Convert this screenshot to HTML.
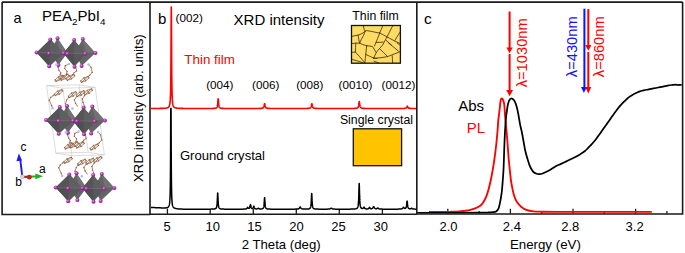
<!DOCTYPE html>
<html><head><meta charset="utf-8"><style>
html,body{margin:0;padding:0;background:#fff;}
body{width:685px;height:253px;overflow:hidden;}
svg{display:block;}
text{font-family:"Liberation Sans",sans-serif;}
</style></head><body>
<svg width="685" height="253" viewBox="0 0 685 253">
<defs>
<radialGradient id="atom" cx="0.4" cy="0.35" r="0.65">
<stop offset="0" stop-color="#e9a0e9"/><stop offset="0.45" stop-color="#b43cb4"/><stop offset="1" stop-color="#861486"/>
</radialGradient>
<clipPath id="cb"><rect x="150.8" y="2.8" width="265.2" height="211"/></clipPath>
<clipPath id="cc"><rect x="417.3" y="2.8" width="264.6" height="210.6"/></clipPath>
</defs>
<rect width="685" height="253" fill="#fff"/>

<!-- panel a -->
<g id="crystal">
<g fill="none" stroke="#c4c4c4" stroke-width="0.6">
<path d="M46.6 85.6 L79 84.8 L95.2 87.4 L62.8 88.2 L46.6 85.6 M55.8 153.1 L88.2 152.3 L104.4 154.9 L72 155.7 L55.8 153.1 M46.6 85.6 L55.8 153.1 M79 84.8 L88.2 152.3 M95.2 87.4 L104.4 154.9 M62.8 88.2 L72 155.7"/>
</g>
<path d="M56.4 64.8 L58.1 67.2 L59 70.5 L60.9 72.9 L60 75 L62.47 75.44 M63.35 76.9 L60.08 79.86 L55.93 81.36 L55.05 79.9 L58.32 76.94 L62.47 75.44 L63.35 76.9 M55.93 81.36 L62.47 75.44 M60.08 79.86 L58.32 76.94 M69 64 L65.2 65.8 L64.8 68.6 L67.1 71.4 L66.4 74.2 L67.87 74.24 M68.75 75.7 L65.48 78.66 L61.33 80.16 L60.45 78.7 L63.72 75.74 L67.87 74.24 L68.75 75.7 M61.33 80.16 L67.87 74.24 M65.48 78.66 L63.72 75.74 M76 67.8 L76.6 71 L74.2 72.6 L72.6 74.6 L73.87 74.44 M74.75 75.9 L71.48 78.86 L67.33 80.36 L66.45 78.9 L69.72 75.94 L73.87 74.44 L74.75 75.9 M67.33 80.36 L73.87 74.44 M71.48 78.86 L69.72 75.94 M88.6 64.5 L91 67.3 L92.2 72.4 L89.8 75.2 L88.07 76.44 M88.95 77.9 L85.68 80.86 L81.53 82.36 L80.65 80.9 L83.92 77.94 L88.07 76.44 L88.95 77.9 M81.53 82.36 L88.07 76.44 M85.68 80.86 L83.92 77.94 M52.6 108.3 L51.6 105.5 L49.3 100.2 L50.7 97.4 L53.2 95.6 L54.35 94.1 M62.65 91.1 L59.38 94.06 L55.23 95.56 L54.35 94.1 L57.62 91.14 L61.77 89.64 L62.65 91.1 M55.23 95.56 L61.77 89.64 M59.38 94.06 L57.62 91.14 M67.3 107.6 L65.5 103.6 L66.7 100 L68.6 97.4 L69.13 97.56 M76.55 93.1 L73.28 96.06 L69.13 97.56 L68.25 96.1 L71.52 93.14 L75.67 91.64 L76.55 93.1 M69.13 97.56 L75.67 91.64 M73.28 96.06 L71.52 93.14 M78 106.9 L75.6 103.4 L74.4 99.9 L76.8 96.4 L77.33 96.56 M84.75 92.1 L81.48 95.06 L77.33 96.56 L76.45 95.1 L79.72 92.14 L83.87 90.64 L84.75 92.1 M77.33 96.56 L83.87 90.64 M81.48 95.06 L79.72 92.14 M84.6 106.4 L83 102.4 L82.4 98.8 L84.6 95.6 L84.93 94.76 M92.35 90.3 L89.08 93.26 L84.93 94.76 L84.05 93.3 L87.32 90.34 L91.47 88.84 L92.35 90.3 M84.93 94.76 L91.47 88.84 M89.08 93.26 L87.32 90.34 M65.9 132.4 L67.6 134.8 L68.5 138.1 L70.4 140.5 L69.5 142.6 L71.97 143.04 M72.85 144.5 L69.58 147.46 L65.43 148.96 L64.55 147.5 L67.82 144.54 L71.97 143.04 L72.85 144.5 M65.43 148.96 L71.97 143.04 M69.58 147.46 L67.82 144.54 M78.5 131.6 L74.7 133.4 L74.3 136.2 L76.6 139 L75.9 141.8 L77.37 141.84 M78.25 143.3 L74.98 146.26 L70.83 147.76 L69.95 146.3 L73.22 143.34 L77.37 141.84 L78.25 143.3 M70.83 147.76 L77.37 141.84 M74.98 146.26 L73.22 143.34 M85.5 135.4 L86.1 138.6 L83.7 140.2 L82.1 142.2 L83.37 142.04 M84.25 143.5 L80.98 146.46 L76.83 147.96 L75.95 146.5 L79.22 143.54 L83.37 142.04 L84.25 143.5 M76.83 147.96 L83.37 142.04 M80.98 146.46 L79.22 143.54 M98.1 132.1 L100.5 134.9 L101.7 140 L99.3 142.8 L97.57 144.04 M98.45 145.5 L95.18 148.46 L91.03 149.96 L90.15 148.5 L93.42 145.54 L97.57 144.04 L98.45 145.5 M91.03 149.96 L97.57 144.04 M95.18 148.46 L93.42 145.54 M62.1 175.9 L61.1 173.1 L58.8 167.8 L60.2 165 L62.7 163.2 L63.85 161.7 M72.15 158.7 L68.88 161.66 L64.73 163.16 L63.85 161.7 L67.12 158.74 L71.27 157.24 L72.15 158.7 M64.73 163.16 L71.27 157.24 M68.88 161.66 L67.12 158.74 M76.8 175.2 L75 171.2 L76.2 167.6 L78.1 165 L78.63 165.16 M86.05 160.7 L82.78 163.66 L78.63 165.16 L77.75 163.7 L81.02 160.74 L85.17 159.24 L86.05 160.7 M78.63 165.16 L85.17 159.24 M82.78 163.66 L81.02 160.74 M87.5 174.5 L85.1 171 L83.9 167.5 L86.3 164 L86.83 164.16 M94.25 159.7 L90.98 162.66 L86.83 164.16 L85.95 162.7 L89.22 159.74 L93.37 158.24 L94.25 159.7 M86.83 164.16 L93.37 158.24 M90.98 162.66 L89.22 159.74 M94.1 174 L92.5 170 L91.9 166.4 L94.1 163.2 L94.43 162.36 M101.85 157.9 L98.58 160.86 L94.43 162.36 L93.55 160.9 L96.82 157.94 L100.97 156.44 L101.85 157.9 M94.43 162.36 L100.97 156.44 M98.58 160.86 L96.82 157.94" fill="none" stroke="#946646" stroke-width="0.8" stroke-linejoin="round"/>
<circle cx="58.1" cy="67.2" r="0.7" fill="#946646"/><circle cx="59" cy="70.5" r="0.7" fill="#946646"/><circle cx="60.9" cy="72.9" r="0.7" fill="#946646"/><circle cx="60" cy="75" r="0.7" fill="#946646"/><circle cx="63.35" cy="76.9" r="0.7" fill="#946646"/><circle cx="60.08" cy="79.86" r="0.7" fill="#946646"/><circle cx="55.93" cy="81.36" r="0.7" fill="#946646"/><circle cx="55.05" cy="79.9" r="0.7" fill="#946646"/><circle cx="58.32" cy="76.94" r="0.7" fill="#946646"/><circle cx="62.47" cy="75.44" r="0.7" fill="#946646"/><circle cx="65.2" cy="65.8" r="0.7" fill="#946646"/><circle cx="64.8" cy="68.6" r="0.7" fill="#946646"/><circle cx="67.1" cy="71.4" r="0.7" fill="#946646"/><circle cx="66.4" cy="74.2" r="0.7" fill="#946646"/><circle cx="68.75" cy="75.7" r="0.7" fill="#946646"/><circle cx="65.48" cy="78.66" r="0.7" fill="#946646"/><circle cx="61.33" cy="80.16" r="0.7" fill="#946646"/><circle cx="60.45" cy="78.7" r="0.7" fill="#946646"/><circle cx="63.72" cy="75.74" r="0.7" fill="#946646"/><circle cx="67.87" cy="74.24" r="0.7" fill="#946646"/><circle cx="76.6" cy="71" r="0.7" fill="#946646"/><circle cx="74.2" cy="72.6" r="0.7" fill="#946646"/><circle cx="72.6" cy="74.6" r="0.7" fill="#946646"/><circle cx="74.75" cy="75.9" r="0.7" fill="#946646"/><circle cx="71.48" cy="78.86" r="0.7" fill="#946646"/><circle cx="67.33" cy="80.36" r="0.7" fill="#946646"/><circle cx="66.45" cy="78.9" r="0.7" fill="#946646"/><circle cx="69.72" cy="75.94" r="0.7" fill="#946646"/><circle cx="73.87" cy="74.44" r="0.7" fill="#946646"/><circle cx="91" cy="67.3" r="0.7" fill="#946646"/><circle cx="92.2" cy="72.4" r="0.7" fill="#946646"/><circle cx="89.8" cy="75.2" r="0.7" fill="#946646"/><circle cx="88.95" cy="77.9" r="0.7" fill="#946646"/><circle cx="85.68" cy="80.86" r="0.7" fill="#946646"/><circle cx="81.53" cy="82.36" r="0.7" fill="#946646"/><circle cx="80.65" cy="80.9" r="0.7" fill="#946646"/><circle cx="83.92" cy="77.94" r="0.7" fill="#946646"/><circle cx="88.07" cy="76.44" r="0.7" fill="#946646"/><circle cx="51.6" cy="105.5" r="0.7" fill="#946646"/><circle cx="49.3" cy="100.2" r="0.7" fill="#946646"/><circle cx="50.7" cy="97.4" r="0.7" fill="#946646"/><circle cx="53.2" cy="95.6" r="0.7" fill="#946646"/><circle cx="62.65" cy="91.1" r="0.7" fill="#946646"/><circle cx="59.38" cy="94.06" r="0.7" fill="#946646"/><circle cx="55.23" cy="95.56" r="0.7" fill="#946646"/><circle cx="54.35" cy="94.1" r="0.7" fill="#946646"/><circle cx="57.62" cy="91.14" r="0.7" fill="#946646"/><circle cx="61.77" cy="89.64" r="0.7" fill="#946646"/><circle cx="65.5" cy="103.6" r="0.7" fill="#946646"/><circle cx="66.7" cy="100" r="0.7" fill="#946646"/><circle cx="68.6" cy="97.4" r="0.7" fill="#946646"/><circle cx="76.55" cy="93.1" r="0.7" fill="#946646"/><circle cx="73.28" cy="96.06" r="0.7" fill="#946646"/><circle cx="69.13" cy="97.56" r="0.7" fill="#946646"/><circle cx="68.25" cy="96.1" r="0.7" fill="#946646"/><circle cx="71.52" cy="93.14" r="0.7" fill="#946646"/><circle cx="75.67" cy="91.64" r="0.7" fill="#946646"/><circle cx="75.6" cy="103.4" r="0.7" fill="#946646"/><circle cx="74.4" cy="99.9" r="0.7" fill="#946646"/><circle cx="76.8" cy="96.4" r="0.7" fill="#946646"/><circle cx="84.75" cy="92.1" r="0.7" fill="#946646"/><circle cx="81.48" cy="95.06" r="0.7" fill="#946646"/><circle cx="77.33" cy="96.56" r="0.7" fill="#946646"/><circle cx="76.45" cy="95.1" r="0.7" fill="#946646"/><circle cx="79.72" cy="92.14" r="0.7" fill="#946646"/><circle cx="83.87" cy="90.64" r="0.7" fill="#946646"/><circle cx="83" cy="102.4" r="0.7" fill="#946646"/><circle cx="82.4" cy="98.8" r="0.7" fill="#946646"/><circle cx="84.6" cy="95.6" r="0.7" fill="#946646"/><circle cx="92.35" cy="90.3" r="0.7" fill="#946646"/><circle cx="89.08" cy="93.26" r="0.7" fill="#946646"/><circle cx="84.93" cy="94.76" r="0.7" fill="#946646"/><circle cx="84.05" cy="93.3" r="0.7" fill="#946646"/><circle cx="87.32" cy="90.34" r="0.7" fill="#946646"/><circle cx="91.47" cy="88.84" r="0.7" fill="#946646"/><circle cx="67.6" cy="134.8" r="0.7" fill="#946646"/><circle cx="68.5" cy="138.1" r="0.7" fill="#946646"/><circle cx="70.4" cy="140.5" r="0.7" fill="#946646"/><circle cx="69.5" cy="142.6" r="0.7" fill="#946646"/><circle cx="72.85" cy="144.5" r="0.7" fill="#946646"/><circle cx="69.58" cy="147.46" r="0.7" fill="#946646"/><circle cx="65.43" cy="148.96" r="0.7" fill="#946646"/><circle cx="64.55" cy="147.5" r="0.7" fill="#946646"/><circle cx="67.82" cy="144.54" r="0.7" fill="#946646"/><circle cx="71.97" cy="143.04" r="0.7" fill="#946646"/><circle cx="74.7" cy="133.4" r="0.7" fill="#946646"/><circle cx="74.3" cy="136.2" r="0.7" fill="#946646"/><circle cx="76.6" cy="139" r="0.7" fill="#946646"/><circle cx="75.9" cy="141.8" r="0.7" fill="#946646"/><circle cx="78.25" cy="143.3" r="0.7" fill="#946646"/><circle cx="74.98" cy="146.26" r="0.7" fill="#946646"/><circle cx="70.83" cy="147.76" r="0.7" fill="#946646"/><circle cx="69.95" cy="146.3" r="0.7" fill="#946646"/><circle cx="73.22" cy="143.34" r="0.7" fill="#946646"/><circle cx="77.37" cy="141.84" r="0.7" fill="#946646"/><circle cx="86.1" cy="138.6" r="0.7" fill="#946646"/><circle cx="83.7" cy="140.2" r="0.7" fill="#946646"/><circle cx="82.1" cy="142.2" r="0.7" fill="#946646"/><circle cx="84.25" cy="143.5" r="0.7" fill="#946646"/><circle cx="80.98" cy="146.46" r="0.7" fill="#946646"/><circle cx="76.83" cy="147.96" r="0.7" fill="#946646"/><circle cx="75.95" cy="146.5" r="0.7" fill="#946646"/><circle cx="79.22" cy="143.54" r="0.7" fill="#946646"/><circle cx="83.37" cy="142.04" r="0.7" fill="#946646"/><circle cx="100.5" cy="134.9" r="0.7" fill="#946646"/><circle cx="101.7" cy="140" r="0.7" fill="#946646"/><circle cx="99.3" cy="142.8" r="0.7" fill="#946646"/><circle cx="98.45" cy="145.5" r="0.7" fill="#946646"/><circle cx="95.18" cy="148.46" r="0.7" fill="#946646"/><circle cx="91.03" cy="149.96" r="0.7" fill="#946646"/><circle cx="90.15" cy="148.5" r="0.7" fill="#946646"/><circle cx="93.42" cy="145.54" r="0.7" fill="#946646"/><circle cx="97.57" cy="144.04" r="0.7" fill="#946646"/><circle cx="61.1" cy="173.1" r="0.7" fill="#946646"/><circle cx="58.8" cy="167.8" r="0.7" fill="#946646"/><circle cx="60.2" cy="165" r="0.7" fill="#946646"/><circle cx="62.7" cy="163.2" r="0.7" fill="#946646"/><circle cx="72.15" cy="158.7" r="0.7" fill="#946646"/><circle cx="68.88" cy="161.66" r="0.7" fill="#946646"/><circle cx="64.73" cy="163.16" r="0.7" fill="#946646"/><circle cx="63.85" cy="161.7" r="0.7" fill="#946646"/><circle cx="67.12" cy="158.74" r="0.7" fill="#946646"/><circle cx="71.27" cy="157.24" r="0.7" fill="#946646"/><circle cx="75" cy="171.2" r="0.7" fill="#946646"/><circle cx="76.2" cy="167.6" r="0.7" fill="#946646"/><circle cx="78.1" cy="165" r="0.7" fill="#946646"/><circle cx="86.05" cy="160.7" r="0.7" fill="#946646"/><circle cx="82.78" cy="163.66" r="0.7" fill="#946646"/><circle cx="78.63" cy="165.16" r="0.7" fill="#946646"/><circle cx="77.75" cy="163.7" r="0.7" fill="#946646"/><circle cx="81.02" cy="160.74" r="0.7" fill="#946646"/><circle cx="85.17" cy="159.24" r="0.7" fill="#946646"/><circle cx="85.1" cy="171" r="0.7" fill="#946646"/><circle cx="83.9" cy="167.5" r="0.7" fill="#946646"/><circle cx="86.3" cy="164" r="0.7" fill="#946646"/><circle cx="94.25" cy="159.7" r="0.7" fill="#946646"/><circle cx="90.98" cy="162.66" r="0.7" fill="#946646"/><circle cx="86.83" cy="164.16" r="0.7" fill="#946646"/><circle cx="85.95" cy="162.7" r="0.7" fill="#946646"/><circle cx="89.22" cy="159.74" r="0.7" fill="#946646"/><circle cx="93.37" cy="158.24" r="0.7" fill="#946646"/><circle cx="92.5" cy="170" r="0.7" fill="#946646"/><circle cx="91.9" cy="166.4" r="0.7" fill="#946646"/><circle cx="94.1" cy="163.2" r="0.7" fill="#946646"/><circle cx="101.85" cy="157.9" r="0.7" fill="#946646"/><circle cx="98.58" cy="160.86" r="0.7" fill="#946646"/><circle cx="94.43" cy="162.36" r="0.7" fill="#946646"/><circle cx="93.55" cy="160.9" r="0.7" fill="#946646"/><circle cx="96.82" cy="157.94" r="0.7" fill="#946646"/><circle cx="100.97" cy="156.44" r="0.7" fill="#946646"/>
<polygon points="57.5,38.3 67.4,53 58.4,65.1 49.5,52" fill="#646466"/>
<polygon points="57.5,38.3 67.4,53 59.45,51.7" fill="#727274"/>
<polygon points="82.8,39 95.4,53 81.6,66 74.5,52.5" fill="#646466"/>
<polygon points="82.8,39 95.4,53 85.95,52.5" fill="#727274"/>
<polygon points="50.3,39.3 63.4,53.2 49.4,66.4 36.7,52.6" fill="#58585a"/>
<polygon points="50.3,39.3 63.4,53.2 49.55,52.85" fill="#5f5f61"/>
<polygon points="50.3,39.3 36.7,52.6 49.55,52.85" fill="#555557"/>
<polygon points="36.7,52.6 49.4,66.4 49.55,52.85" fill="#4f4f51"/>
<line x1="36.7" y1="52.6" x2="63.4" y2="53.2" stroke="#86708a" stroke-width="0.55"/>
<polygon points="74.1,40 85.6,53.7 74.5,66.8 63.4,53.2" fill="#58585a"/>
<polygon points="74.1,40 85.6,53.7 74,53.4" fill="#5f5f61"/>
<polygon points="74.1,40 63.4,53.2 74,53.4" fill="#555557"/>
<polygon points="63.4,53.2 74.5,66.8 74,53.4" fill="#4f4f51"/>
<line x1="63.4" y1="53.2" x2="85.6" y2="53.7" stroke="#86708a" stroke-width="0.55"/>
<circle cx="50.3" cy="39.5" r="2.0" fill="url(#atom)"/>
<circle cx="57.5" cy="38.3" r="2.0" fill="url(#atom)"/>
<circle cx="74.1" cy="40" r="2.0" fill="url(#atom)"/>
<circle cx="82.8" cy="39" r="2.0" fill="url(#atom)"/>
<circle cx="36.6" cy="52.5" r="2.0" fill="url(#atom)"/>
<circle cx="48.9" cy="53.5" r="2.0" fill="url(#atom)"/>
<circle cx="63.4" cy="53.2" r="2.0" fill="url(#atom)"/>
<circle cx="67.4" cy="53.7" r="2.0" fill="url(#atom)"/>
<circle cx="85.2" cy="53.7" r="2.0" fill="url(#atom)"/>
<circle cx="95.4" cy="53" r="2.0" fill="url(#atom)"/>
<circle cx="49.2" cy="66.2" r="2.0" fill="url(#atom)"/>
<circle cx="58.4" cy="65.1" r="2.0" fill="url(#atom)"/>
<circle cx="74.5" cy="66.7" r="2.0" fill="url(#atom)"/>
<circle cx="81.6" cy="66" r="2.0" fill="url(#atom)"/>
<polygon points="67,105.9 76.9,120.6 67.9,132.7 59,119.6" fill="#646466"/>
<polygon points="67,105.9 76.9,120.6 68.95,119.3" fill="#727274"/>
<polygon points="92.3,106.6 104.9,120.6 91.1,133.6 84,120.1" fill="#646466"/>
<polygon points="92.3,106.6 104.9,120.6 95.45,120.1" fill="#727274"/>
<polygon points="59.8,106.9 72.9,120.8 58.9,134 46.2,120.2" fill="#58585a"/>
<polygon points="59.8,106.9 72.9,120.8 59.05,120.45" fill="#5f5f61"/>
<polygon points="59.8,106.9 46.2,120.2 59.05,120.45" fill="#555557"/>
<polygon points="46.2,120.2 58.9,134 59.05,120.45" fill="#4f4f51"/>
<line x1="46.2" y1="120.2" x2="72.9" y2="120.8" stroke="#86708a" stroke-width="0.55"/>
<polygon points="83.6,107.6 95.1,121.3 84,134.4 72.9,120.8" fill="#58585a"/>
<polygon points="83.6,107.6 95.1,121.3 83.5,121" fill="#5f5f61"/>
<polygon points="83.6,107.6 72.9,120.8 83.5,121" fill="#555557"/>
<polygon points="72.9,120.8 84,134.4 83.5,121" fill="#4f4f51"/>
<line x1="72.9" y1="120.8" x2="95.1" y2="121.3" stroke="#86708a" stroke-width="0.55"/>
<circle cx="59.8" cy="107.1" r="2.0" fill="url(#atom)"/>
<circle cx="67" cy="105.9" r="2.0" fill="url(#atom)"/>
<circle cx="83.6" cy="107.6" r="2.0" fill="url(#atom)"/>
<circle cx="92.3" cy="106.6" r="2.0" fill="url(#atom)"/>
<circle cx="46.1" cy="120.1" r="2.0" fill="url(#atom)"/>
<circle cx="58.4" cy="121.1" r="2.0" fill="url(#atom)"/>
<circle cx="72.9" cy="120.8" r="2.0" fill="url(#atom)"/>
<circle cx="76.9" cy="121.3" r="2.0" fill="url(#atom)"/>
<circle cx="94.7" cy="121.3" r="2.0" fill="url(#atom)"/>
<circle cx="104.9" cy="120.6" r="2.0" fill="url(#atom)"/>
<circle cx="58.7" cy="133.8" r="2.0" fill="url(#atom)"/>
<circle cx="67.9" cy="132.7" r="2.0" fill="url(#atom)"/>
<circle cx="84" cy="134.3" r="2.0" fill="url(#atom)"/>
<circle cx="91.1" cy="133.6" r="2.0" fill="url(#atom)"/>
<polygon points="76.5,173.3 86.4,188 77.4,200.1 68.5,187" fill="#646466"/>
<polygon points="76.5,173.3 86.4,188 78.45,186.7" fill="#727274"/>
<polygon points="101.8,174 114.4,188 100.6,201 93.5,187.5" fill="#646466"/>
<polygon points="101.8,174 114.4,188 104.95,187.5" fill="#727274"/>
<polygon points="69.3,174.3 82.4,188.2 68.4,201.4 55.7,187.6" fill="#58585a"/>
<polygon points="69.3,174.3 82.4,188.2 68.55,187.85" fill="#5f5f61"/>
<polygon points="69.3,174.3 55.7,187.6 68.55,187.85" fill="#555557"/>
<polygon points="55.7,187.6 68.4,201.4 68.55,187.85" fill="#4f4f51"/>
<line x1="55.7" y1="187.6" x2="82.4" y2="188.2" stroke="#86708a" stroke-width="0.55"/>
<polygon points="93.1,175 104.6,188.7 93.5,201.8 82.4,188.2" fill="#58585a"/>
<polygon points="93.1,175 104.6,188.7 93,188.4" fill="#5f5f61"/>
<polygon points="93.1,175 82.4,188.2 93,188.4" fill="#555557"/>
<polygon points="82.4,188.2 93.5,201.8 93,188.4" fill="#4f4f51"/>
<line x1="82.4" y1="188.2" x2="104.6" y2="188.7" stroke="#86708a" stroke-width="0.55"/>
<circle cx="69.3" cy="174.5" r="2.0" fill="url(#atom)"/>
<circle cx="76.5" cy="173.3" r="2.0" fill="url(#atom)"/>
<circle cx="93.1" cy="175" r="2.0" fill="url(#atom)"/>
<circle cx="101.8" cy="174" r="2.0" fill="url(#atom)"/>
<circle cx="55.6" cy="187.5" r="2.0" fill="url(#atom)"/>
<circle cx="67.9" cy="188.5" r="2.0" fill="url(#atom)"/>
<circle cx="82.4" cy="188.2" r="2.0" fill="url(#atom)"/>
<circle cx="86.4" cy="188.7" r="2.0" fill="url(#atom)"/>
<circle cx="104.2" cy="188.7" r="2.0" fill="url(#atom)"/>
<circle cx="114.4" cy="188" r="2.0" fill="url(#atom)"/>
<circle cx="68.2" cy="201.2" r="2.0" fill="url(#atom)"/>
<circle cx="77.4" cy="200.1" r="2.0" fill="url(#atom)"/>
<circle cx="93.5" cy="201.7" r="2.0" fill="url(#atom)"/>
<circle cx="100.6" cy="201" r="2.0" fill="url(#atom)"/>
<circle cx="56.4" cy="64.8" r="1.3" fill="#b4bcec"/><circle cx="69" cy="64" r="1.3" fill="#b4bcec"/><circle cx="88.6" cy="64.5" r="1.3" fill="#b4bcec"/><circle cx="52.6" cy="108.3" r="1.3" fill="#b4bcec"/><circle cx="72.4" cy="108.6" r="1.3" fill="#b4bcec"/><circle cx="65.9" cy="132.4" r="1.3" fill="#b4bcec"/><circle cx="78.5" cy="131.6" r="1.3" fill="#b4bcec"/><circle cx="98.1" cy="132.1" r="1.3" fill="#b4bcec"/><circle cx="62.1" cy="175.9" r="1.3" fill="#b4bcec"/><circle cx="81.9" cy="176.2" r="1.3" fill="#b4bcec"/>
</g>
<!-- axes indicator -->
<line x1="22.3" y1="176.4" x2="20.2" y2="159" stroke="#1c1cf0" stroke-width="1.9"/>
<polygon points="18.9,153.2 16.4,161.2 22,160.6" fill="#1c1cf0"/>
<line x1="22.3" y1="176.8" x2="36" y2="176.5" stroke="#22b022" stroke-width="1.9"/>
<polygon points="43,176.3 35.4,173.4 35.4,179.2" fill="#22b022"/>
<line x1="22.3" y1="176.8" x2="29" y2="177.1" stroke="#b01818" stroke-width="1.6"/>
<circle cx="29.3" cy="177.2" r="2.4" fill="#c81e1e"/>
<circle cx="22.3" cy="176.7" r="2" fill="#d8d8d8" stroke="#999" stroke-width="0.4"/>
<text x="20.6" y="151" font-size="12">c</text>
<text x="38.9" y="172.7" font-size="12">a</text>
<text x="15.2" y="186" font-size="12">b</text>

<text x="13.6" y="22.8" font-size="14.5">a</text>
<text x="42" y="21.4" font-size="15">PEA<tspan font-size="9.9" dy="3.1">2</tspan><tspan dy="-3.1">PbI</tspan><tspan font-size="9.9" dy="3.1">4</tspan></text>

<!-- frames -->
<g fill="none" stroke="#1a1a1a" stroke-width="1.6">
<path d="M2.1 2.1 L682.6 2.1"/>
<path d="M2.1 2.1 L2.1 214.5 L150 214.5"/>
<path d="M150 2.1 L150 214.3 L416.8 214.3"/>
<path d="M416.8 2.1 L416.8 214 L682.6 214 L682.6 2.1"/>
</g>

<!-- panel b -->
<text x="158" y="23.5" font-size="15">b</text>
<text x="175.5" y="21.9" font-size="11.7">(002)</text>
<text x="233.6" y="24.6" font-size="15">XRD intensity</text>
<text x="352.3" y="20.2" font-size="12.3">Thin film</text>
<rect x="351.5" y="25.5" width="48.9" height="37.7" fill="#fedb66"/>
<path d="M363.3 25.8 L364.2 29.5 L365.2 31.2 L366.5 30.6 L371 31.3 L377 32.6 L379.7 33 M365.2 31.2 L363.5 35.5 L361.3 39.5 L359.6 43.2 M351.6 36.4 L355 35.7 L358.1 35.1 L362 33.6 L365.2 31.2 M358.1 35.1 L358.8 39.5 L359.6 43.2 M351.6 43.6 L355.8 43.1 L359.6 43.2 L362.6 44.5 L366.7 45.7 M382.7 25.8 L381.2 29.5 L379.7 33 L377.6 38.5 L375.7 43 L374.5 46 M379.7 33 L383.5 35 L387 36.9 L391 39 L395 41.2 L400.3 43.6 M392.7 25.8 L390 31 L387 36.9 L384.8 41 L382.7 45 L379.5 48.5 L376.3 52.5 M400.3 31.7 L397.5 36.2 L394.9 40.4 M386.2 40.4 L388.5 42.5 L391.4 45 M355.8 43.1 L355.5 47.5 L355.4 52.1 M351.6 52.4 L355.4 52.1 M355.4 52.1 L359.5 56.5 L363.5 61.2 L364.5 62.8 M351.6 59.4 L357 60.8 L362.6 62.6 M366.7 45.7 L366.2 50 L365.8 54.4 L365.3 58.5 L364.9 62.8 M365.8 54.4 L369.5 56.2 L373.5 58 L377 58.5 M366.7 45.7 L372.4 46.4 L376.3 52.5 L373.5 58.3 M376.3 42.5 L380 42.3 L383.3 42.1 M379.5 48.5 L383.5 52.5 L387.6 56.6 M373.5 58.3 L380 57.8 L387.6 56.6 L394 54.1 L400.3 51.6 M392.2 55.7 L392.4 59 L392.6 62.8 M388.5 43 L393.5 47 L398.5 51.2 M397.2 43 L399.5 44.8 M374 61.2 L378.5 62.8" fill="none" stroke="#2a2000" stroke-width="0.75" stroke-linejoin="round" stroke-linecap="round"/>
<rect x="351.5" y="25.5" width="48.9" height="37.7" fill="none" stroke="#111" stroke-width="1.3"/>
<text x="184.3" y="63.6" font-size="13.4" fill="#ff0000">Thin film</text>
<g font-size="11.7">
<text x="206.2" y="89.3">(004)</text>
<text x="252.1" y="89.3">(006)</text>
<text x="296.2" y="89.3">(008)</text>
<text x="338.6" y="89.3">(0010)</text>
<text x="381.6" y="89.3">(0012)</text>
</g>
<text x="339.9" y="123.5" font-size="12.3">Single crystal</text>
<rect x="353.3" y="128.8" width="48.3" height="36.9" fill="#ffc300" stroke="#111" stroke-width="1.3"/>
<text x="179.9" y="160.3" font-size="13.1">Ground crystal</text>
<g stroke="#1a1a1a" stroke-width="1.3">
<line x1="167.4" y1="214" x2="167.4" y2="208.6"/>
<line x1="210.2" y1="214" x2="210.2" y2="209"/>
<line x1="253.3" y1="214" x2="253.3" y2="209"/>
<line x1="296.3" y1="214" x2="296.3" y2="209"/>
<line x1="339.3" y1="214" x2="339.3" y2="209"/>
<line x1="382.4" y1="214" x2="382.4" y2="209"/>
</g>
<g clip-path="url(#cb)">
<path d="M150.6 207.41 L150.85 207.42 L151.1 207.43 L151.35 207.45 L151.6 207.46 L151.85 207.47 L152.1 207.48 L152.35 207.5 L152.6 207.51 L152.85 207.52 L153.1 207.53 L153.35 207.55 L153.6 207.56 L153.85 207.57 L154.1 207.58 L154.35 207.59 L154.6 207.61 L154.85 207.62 L155.1 207.63 L155.35 207.64 L155.6 207.65 L155.85 207.67 L156.1 207.68 L156.35 207.69 L156.6 207.7 L156.85 207.71 L157.1 207.72 L157.35 207.74 L157.6 207.75 L157.85 207.76 L158.1 207.77 L158.35 207.78 L158.6 207.79 L158.85 207.8 L159.1 207.81 L159.35 207.82 L159.6 207.83 L159.85 207.84 L160.1 207.85 L160.35 207.86 L160.6 207.87 L160.85 207.88 L161.1 207.89 L161.35 207.9 L161.6 207.9 L161.85 207.91 L162.1 207.92 L162.35 207.92 L162.6 207.93 L162.85 207.93 L163.1 207.94 L163.35 207.94 L163.6 207.94 L163.85 207.94 L164.1 207.94 L164.35 207.94 L164.6 207.93 L164.85 207.93 L165.1 207.92 L165.35 207.9 L165.6 207.89 L165.85 207.87 L166.1 207.84 L166.35 207.81 L166.6 207.77 L166.85 207.72 L167.1 207.65 L167.35 207.57 L167.6 207.48 L167.85 207.35 L168.1 207.18 L168.35 206.95 L168.6 206.64 L168.85 206.21 L168.93 206.03 L169.02 205.82 L169.1 205.58 L169.16 205.38 L169.22 205.16 L169.29 204.91 L169.35 204.63 L169.39 204.42 L169.43 204.2 L169.47 203.96 L169.52 203.69 L169.56 203.41 L169.6 203.09 L169.63 202.87 L169.66 202.63 L169.68 202.37 L169.71 202.1 L169.74 201.8 L169.77 201.49 L169.79 201.15 L169.82 200.79 L169.85 200.41 L169.86 200.2 L169.88 199.99 L169.89 199.77 L169.91 199.54 L169.92 199.3 L169.93 199.06 L169.95 198.8 L169.96 198.53 L169.97 198.25 L169.99 197.96 L170 197.66 L170.02 197.34 L170.03 197.02 L170.04 196.67 L170.06 196.31 L170.07 195.94 L170.09 195.55 L170.1 195.14 L170.11 194.95 L170.11 194.76 L170.12 194.57 L170.12 194.37 L170.13 194.17 L170.14 193.96 L170.14 193.75 L170.15 193.54 L170.15 193.32 L170.16 193.1 L170.17 192.87 L170.17 192.63 L170.18 192.4 L170.19 192.15 L170.19 191.9 L170.2 191.65 L170.2 191.39 L170.21 191.12 L170.22 190.85 L170.22 190.57 L170.23 190.29 L170.23 190 L170.24 189.7 L170.25 189.4 L170.25 189.09 L170.26 188.77 L170.26 188.44 L170.27 188.11 L170.28 187.77 L170.28 187.42 L170.29 187.06 L170.3 186.69 L170.3 186.32 L170.31 185.93 L170.31 185.54 L170.32 185.13 L170.33 184.72 L170.33 184.3 L170.34 183.86 L170.34 183.42 L170.35 182.96 L170.35 182.79 L170.35 182.62 L170.36 182.46 L170.36 182.29 L170.36 182.11 L170.36 181.94 L170.37 181.77 L170.37 181.59 L170.37 181.41 L170.37 181.23 L170.37 181.05 L170.38 180.87 L170.38 180.68 L170.38 180.49 L170.38 180.31 L170.38 180.12 L170.39 179.92 L170.39 179.73 L170.39 179.53 L170.39 179.34 L170.4 179.14 L170.4 178.94 L170.4 178.73 L170.4 178.53 L170.4 178.32 L170.41 178.11 L170.41 177.9 L170.41 177.69 L170.41 177.48 L170.42 177.26 L170.42 177.04 L170.42 176.82 L170.42 176.6 L170.42 176.37 L170.43 176.15 L170.43 175.92 L170.43 175.68 L170.43 175.45 L170.43 175.21 L170.44 174.98 L170.44 174.74 L170.44 174.49 L170.44 174.25 L170.45 174 L170.45 173.75 L170.45 173.5 L170.45 173.24 L170.45 172.99 L170.46 172.73 L170.46 172.46 L170.46 172.2 L170.46 171.93 L170.47 171.66 L170.47 171.39 L170.47 171.11 L170.47 170.83 L170.47 170.55 L170.48 170.27 L170.48 169.98 L170.48 169.69 L170.48 169.4 L170.48 169.11 L170.49 168.81 L170.49 168.51 L170.49 168.2 L170.49 167.9 L170.5 167.59 L170.5 167.27 L170.5 166.96 L170.5 166.64 L170.5 166.32 L170.51 165.99 L170.51 165.66 L170.51 165.33 L170.51 165 L170.52 164.66 L170.52 164.31 L170.52 163.97 L170.52 163.62 L170.52 163.27 L170.53 162.91 L170.53 162.55 L170.53 162.19 L170.53 161.82 L170.53 161.45 L170.54 161.08 L170.54 160.7 L170.54 160.32 L170.54 159.94 L170.55 159.55 L170.55 159.16 L170.55 158.76 L170.55 158.36 L170.55 157.95 L170.56 157.55 L170.56 157.13 L170.56 156.72 L170.56 156.3 L170.57 155.87 L170.57 155.44 L170.57 155.01 L170.57 154.57 L170.57 154.13 L170.58 153.69 L170.58 153.24 L170.58 152.78 L170.58 152.33 L170.58 151.86 L170.59 151.39 L170.59 150.92 L170.59 150.45 L170.59 149.97 L170.6 149.48 L170.6 148.99 L170.6 148.5 L170.6 148.27 L170.6 148.04 L170.6 147.81 L170.6 147.57 L170.6 147.34 L170.61 147.11 L170.61 146.87 L170.61 146.64 L170.61 146.4 L170.61 146.16 L170.61 145.92 L170.61 145.68 L170.61 145.44 L170.61 145.2 L170.61 144.96 L170.62 144.71 L170.62 144.47 L170.62 144.22 L170.62 143.97 L170.62 143.73 L170.62 143.48 L170.62 143.23 L170.62 142.98 L170.62 142.72 L170.62 142.47 L170.63 142.22 L170.63 141.96 L170.63 141.7 L170.63 141.45 L170.63 141.19 L170.63 140.93 L170.63 140.67 L170.63 140.41 L170.63 140.15 L170.63 139.88 L170.64 139.62 L170.64 139.35 L170.64 139.09 L170.64 138.82 L170.64 138.55 L170.64 138.28 L170.64 138.01 L170.64 137.74 L170.64 137.46 L170.64 137.19 L170.65 136.92 L170.65 136.64 L170.65 136.36 L170.65 136.09 L170.65 135.81 L170.65 135.53 L170.65 135.25 L170.65 134.96 L170.65 134.68 L170.66 134.4 L170.66 134.11 L170.66 133.82 L170.66 133.54 L170.66 133.25 L170.66 132.96 L170.66 132.67 L170.66 132.38 L170.66 132.09 L170.66 131.79 L170.66 131.5 L170.67 131.2 L170.67 130.91 L170.67 130.61 L170.67 130.31 L170.67 130.01 L170.67 129.71 L170.67 129.41 L170.67 129.11 L170.67 128.81 L170.67 128.5 L170.68 128.2 L170.68 127.89 L170.68 127.58 L170.68 127.27 L170.68 126.97 L170.68 126.66 L170.68 126.35 L170.68 126.03 L170.68 125.72 L170.69 125.41 L170.69 125.09 L170.69 124.78 L170.69 124.46 L170.69 124.14 L170.69 123.83 L170.69 123.51 L170.69 123.19 L170.69 122.87 L170.69 122.55 L170.69 122.22 L170.7 121.9 L170.7 121.58 L170.7 121.25 L170.7 120.92 L170.7 120.6 L170.7 120.27 L170.7 119.94 L170.7 119.61 L170.7 119.28 L170.7 118.95 L170.71 118.62 L170.71 118.29 L170.71 117.96 L170.71 117.63 L170.71 117.29 L170.71 116.96 L170.71 116.62 L170.71 116.28 L170.71 115.95 L170.72 115.61 L170.72 115.27 L170.72 114.93 L170.72 114.6 L170.72 114.26 L170.72 113.92 L170.72 113.57 L170.72 113.23 L170.72 112.89 L170.72 112.55 L170.72 112.21 L170.73 111.86 L170.73 111.52 L170.73 111.17 L170.73 110.83 L170.73 110.48 L170.73 110.14 L170.73 109.79 L170.73 109.45 L170.73 109.1 L170.73 108.75 L170.74 108.6 L170.74 108.6 L170.74 108.6 L170.74 108.6 L170.74 108.6 L170.74 108.6 L170.74 108.6 L170.74 108.6 L170.74 108.6 L170.75 108.6 L170.75 108.6 L170.75 108.6 L170.75 108.6 L170.75 108.6 L170.75 108.6 L170.75 108.6 L170.75 108.6 L170.75 108.6 L170.75 108.6 L170.75 108.6 L170.76 108.6 L170.76 108.6 L170.76 108.6 L170.76 108.6 L170.76 108.6 L170.76 108.6 L170.76 108.6 L170.76 108.6 L170.76 108.6 L170.76 108.6 L170.77 108.6 L170.77 108.6 L170.77 108.6 L170.77 108.6 L170.77 108.6 L170.77 108.6 L170.77 108.6 L170.77 108.6 L170.77 108.6 L170.78 108.6 L170.78 108.6 L170.78 108.6 L170.78 108.6 L170.78 108.6 L170.78 108.6 L170.78 108.6 L170.78 108.6 L170.78 108.6 L170.78 108.6 L170.78 108.6 L170.79 108.6 L170.79 108.6 L170.79 108.6 L170.79 108.6 L170.79 108.6 L170.79 108.6 L170.79 108.6 L170.79 108.6 L170.79 108.6 L170.79 108.6 L170.8 108.6 L170.8 108.6 L170.8 108.6 L170.8 108.6 L170.8 108.6 L170.8 108.6 L170.8 108.6 L170.8 108.6 L170.8 108.6 L170.81 108.6 L170.81 108.6 L170.81 108.6 L170.81 108.6 L170.81 108.6 L170.81 108.6 L170.81 108.6 L170.81 108.6 L170.81 108.6 L170.81 108.6 L170.81 108.6 L170.82 108.6 L170.82 108.6 L170.82 108.6 L170.82 108.6 L170.82 108.6 L170.82 108.6 L170.82 108.6 L170.82 108.6 L170.82 108.6 L170.82 108.6 L170.83 108.6 L170.83 108.6 L170.83 108.6 L170.83 108.6 L170.83 108.6 L170.83 108.6 L170.83 108.6 L170.83 108.6 L170.83 108.6 L170.84 108.6 L170.84 108.6 L170.84 108.6 L170.84 108.6 L170.84 108.6 L170.84 108.6 L170.84 108.6 L170.84 108.6 L170.84 108.6 L170.84 108.6 L170.84 108.6 L170.85 108.6 L170.85 108.6 L170.85 108.6 L170.85 108.6 L170.85 108.6 L170.85 108.6 L170.85 108.6 L170.85 108.6 L170.86 108.6 L170.86 108.6 L170.86 108.6 L170.86 108.6 L170.86 108.6 L170.86 108.6 L170.87 108.6 L170.87 108.6 L170.87 108.6 L170.87 108.6 L170.87 108.6 L170.87 108.6 L170.88 108.6 L170.88 108.6 L170.88 108.6 L170.88 108.6 L170.88 108.6 L170.88 108.6 L170.89 108.6 L170.89 108.6 L170.89 108.6 L170.89 108.6 L170.89 108.6 L170.89 108.6 L170.89 108.6 L170.9 108.6 L170.9 108.6 L170.9 108.6 L170.9 108.6 L170.9 108.6 L170.9 108.6 L170.91 108.6 L170.91 108.6 L170.91 108.6 L170.91 108.6 L170.91 108.6 L170.91 108.6 L170.92 108.6 L170.92 108.6 L170.92 108.6 L170.92 108.6 L170.92 108.6 L170.92 108.6 L170.92 108.6 L170.93 108.6 L170.93 108.6 L170.93 108.6 L170.93 108.6 L170.93 108.6 L170.93 108.6 L170.94 108.6 L170.94 108.6 L170.94 108.6 L170.94 108.6 L170.94 108.6 L170.94 108.6 L170.95 108.6 L170.95 108.6 L170.95 108.6 L170.95 108.6 L170.95 108.6 L170.95 108.6 L170.96 108.6 L170.96 108.6 L170.96 108.6 L170.96 108.6 L170.96 108.6 L170.96 108.6 L170.96 108.6 L170.97 108.6 L170.97 108.6 L170.97 108.6 L170.97 108.6 L170.97 108.6 L170.97 108.6 L170.98 108.6 L170.98 108.6 L170.98 108.6 L170.98 108.6 L170.98 108.6 L170.98 108.6 L170.99 108.6 L170.99 108.6 L170.99 108.6 L170.99 108.6 L170.99 108.6 L170.99 108.6 L170.99 108.6 L171 108.6 L171 108.6 L171 108.6 L171 108.6 L171 108.6 L171 108.6 L171.01 108.6 L171.01 108.6 L171.01 108.6 L171.01 108.6 L171.01 108.6 L171.01 108.6 L171.02 108.6 L171.02 108.6 L171.02 108.6 L171.02 108.6 L171.02 108.6 L171.02 108.6 L171.03 108.6 L171.03 108.6 L171.03 108.6 L171.03 108.6 L171.03 108.6 L171.03 108.6 L171.03 108.6 L171.04 108.6 L171.04 108.6 L171.04 108.6 L171.04 108.6 L171.04 108.6 L171.04 108.6 L171.05 108.6 L171.05 108.6 L171.05 108.6 L171.05 108.6 L171.05 108.6 L171.05 108.6 L171.06 108.6 L171.06 108.6 L171.06 108.6 L171.06 108.6 L171.06 108.6 L171.06 108.6 L171.06 108.76 L171.07 109.32 L171.07 109.87 L171.07 110.42 L171.07 110.97 L171.07 111.52 L171.07 112.07 L171.08 112.61 L171.08 113.16 L171.08 113.7 L171.08 114.24 L171.08 114.78 L171.08 115.32 L171.09 115.86 L171.09 116.4 L171.09 116.93 L171.09 117.47 L171.09 118 L171.09 118.53 L171.1 119.05 L171.1 119.58 L171.1 120.1 L171.1 120.63 L171.1 121.09 L171.1 121.55 L171.1 122 L171.11 122.46 L171.11 122.92 L171.11 123.37 L171.11 123.82 L171.11 124.27 L171.11 124.72 L171.11 125.16 L171.12 125.61 L171.12 126.05 L171.12 126.49 L171.12 126.93 L171.12 127.36 L171.12 127.8 L171.12 128.23 L171.13 128.66 L171.13 129.09 L171.13 129.52 L171.13 129.94 L171.13 130.37 L171.13 130.79 L171.13 131.21 L171.14 131.62 L171.14 132.04 L171.14 132.45 L171.14 132.86 L171.14 133.27 L171.14 133.68 L171.14 134.08 L171.15 134.49 L171.15 134.89 L171.15 135.29 L171.15 135.68 L171.15 136.08 L171.15 136.47 L171.15 136.86 L171.16 137.25 L171.16 137.64 L171.16 138.02 L171.16 138.4 L171.16 138.78 L171.16 139.16 L171.16 139.54 L171.16 139.91 L171.17 140.28 L171.17 140.65 L171.17 141.02 L171.17 141.39 L171.17 141.75 L171.17 142.11 L171.17 142.47 L171.18 142.83 L171.18 143.19 L171.18 143.54 L171.18 143.89 L171.18 144.24 L171.18 144.59 L171.18 144.93 L171.19 145.28 L171.19 145.62 L171.19 145.96 L171.19 146.3 L171.19 146.63 L171.19 146.96 L171.19 147.3 L171.2 147.63 L171.2 147.95 L171.2 148.28 L171.2 148.6 L171.2 148.92 L171.2 149.24 L171.2 149.56 L171.21 149.88 L171.21 150.19 L171.21 150.5 L171.21 150.81 L171.21 151.12 L171.21 151.43 L171.21 151.73 L171.22 152.03 L171.22 152.34 L171.22 152.63 L171.22 152.93 L171.22 153.23 L171.22 153.52 L171.22 153.81 L171.23 154.1 L171.23 154.39 L171.23 154.67 L171.23 154.96 L171.23 155.24 L171.23 155.52 L171.23 155.8 L171.24 156.08 L171.24 156.35 L171.24 156.63 L171.24 156.9 L171.24 157.17 L171.24 157.44 L171.24 157.7 L171.25 157.97 L171.25 158.23 L171.25 158.5 L171.25 158.76 L171.25 159.01 L171.25 159.27 L171.25 159.53 L171.26 159.78 L171.26 160.03 L171.26 160.28 L171.26 160.53 L171.26 160.78 L171.26 161.02 L171.26 161.27 L171.27 161.51 L171.27 161.75 L171.27 161.99 L171.27 162.23 L171.27 162.47 L171.27 162.7 L171.27 162.93 L171.28 163.17 L171.28 163.4 L171.28 163.63 L171.28 163.85 L171.28 164.08 L171.28 164.3 L171.28 164.53 L171.29 164.75 L171.29 164.97 L171.29 165.19 L171.29 165.4 L171.29 165.62 L171.29 165.84 L171.29 166.05 L171.29 166.26 L171.3 166.47 L171.3 166.68 L171.3 166.89 L171.3 167.1 L171.3 167.3 L171.3 167.51 L171.3 167.71 L171.31 167.91 L171.31 168.11 L171.31 168.31 L171.31 168.51 L171.31 168.7 L171.31 168.9 L171.31 169.09 L171.32 169.28 L171.32 169.48 L171.32 169.67 L171.32 169.85 L171.32 170.04 L171.32 170.23 L171.32 170.41 L171.33 170.6 L171.33 170.78 L171.33 170.96 L171.33 171.14 L171.33 171.32 L171.33 171.5 L171.33 171.68 L171.34 171.86 L171.34 172.03 L171.34 172.21 L171.34 172.38 L171.34 172.55 L171.34 172.72 L171.34 172.89 L171.35 173.06 L171.35 173.23 L171.35 173.39 L171.35 173.56 L171.35 174.03 L171.36 174.5 L171.36 174.96 L171.37 175.41 L171.37 175.85 L171.37 176.28 L171.38 176.71 L171.38 177.13 L171.39 177.54 L171.39 177.94 L171.4 178.34 L171.4 178.73 L171.4 179.11 L171.41 179.49 L171.41 179.85 L171.42 180.22 L171.42 180.58 L171.42 180.93 L171.43 181.27 L171.43 181.61 L171.44 181.94 L171.44 182.27 L171.44 182.59 L171.45 182.91 L171.45 183.22 L171.46 183.53 L171.46 183.83 L171.46 184.12 L171.47 184.41 L171.47 184.7 L171.48 184.98 L171.48 185.26 L171.49 185.53 L171.49 185.8 L171.49 186.06 L171.5 186.32 L171.5 186.58 L171.51 186.83 L171.51 187.08 L171.51 187.32 L171.52 187.56 L171.52 187.79 L171.53 188.03 L171.53 188.25 L171.53 188.48 L171.54 188.7 L171.54 188.92 L171.55 189.13 L171.55 189.34 L171.55 189.55 L171.56 189.76 L171.56 189.96 L171.57 190.16 L171.57 190.35 L171.58 190.55 L171.58 190.74 L171.58 190.92 L171.59 191.11 L171.59 191.29 L171.6 191.47 L171.6 191.64 L171.61 192.06 L171.62 192.47 L171.63 192.86 L171.64 193.24 L171.65 193.6 L171.66 193.95 L171.67 194.29 L171.68 194.62 L171.69 194.94 L171.7 195.25 L171.71 195.55 L171.72 195.83 L171.73 196.11 L171.74 196.39 L171.75 196.65 L171.76 196.9 L171.77 197.15 L171.78 197.39 L171.79 197.62 L171.8 197.85 L171.81 198.06 L171.82 198.28 L171.83 198.48 L171.84 198.68 L171.85 198.88 L171.87 199.27 L171.89 199.63 L171.91 199.98 L171.93 200.3 L171.95 200.61 L171.97 200.9 L172 201.18 L172.02 201.45 L172.04 201.69 L172.06 201.93 L172.08 202.16 L172.1 202.37 L172.14 202.72 L172.17 203.04 L172.21 203.33 L172.24 203.6 L172.28 203.85 L172.31 204.09 L172.35 204.31 L172.41 204.65 L172.47 204.96 L172.54 205.24 L172.6 205.49 L172.68 205.78 L172.77 206.03 L172.85 206.26 L173.1 206.79 L173.35 207.18 L173.6 207.47 L173.85 207.69 L174.1 207.87 L174.35 208.02 L174.6 208.14 L174.85 208.24 L175.1 208.32 L175.35 208.4 L175.6 208.47 L175.85 208.52 L176.1 208.58 L176.35 208.63 L176.6 208.67 L176.85 208.71 L177.1 208.75 L177.35 208.79 L177.6 208.82 L177.85 208.85 L178.1 208.88 L178.35 208.91 L178.6 208.94 L178.85 208.97 L179.1 208.99 L179.35 209.02 L179.6 209.04 L179.85 209.07 L180.1 209.08 L180.35 209.09 L180.6 209.1 L180.85 209.1 L181.1 209.11 L181.35 209.11 L181.6 209.11 L181.85 209.12 L182.1 209.12 L182.35 209.12 L182.6 209.13 L182.85 209.13 L183.1 209.13 L183.35 209.13 L183.6 209.14 L183.85 209.14 L184.1 209.14 L184.35 209.14 L184.6 209.15 L184.85 209.15 L185.1 209.15 L185.35 209.15 L185.6 209.15 L185.85 209.15 L186.1 209.15 L186.35 209.16 L186.6 209.16 L186.85 209.16 L187.1 209.16 L187.35 209.16 L187.6 209.16 L187.85 209.16 L188.1 209.16 L188.35 209.16 L188.6 209.16 L188.85 209.17 L189.1 209.17 L189.35 209.17 L189.6 209.17 L189.85 209.17 L190.1 209.17 L190.35 209.17 L190.6 209.17 L190.85 209.17 L191.1 209.17 L191.35 209.17 L191.6 209.17 L191.85 209.17 L192.1 209.17 L192.35 209.17 L192.6 209.17 L192.85 209.17 L193.1 209.17 L193.35 209.17 L193.6 209.17 L193.85 209.17 L194.1 209.18 L194.35 209.18 L194.6 209.18 L194.85 209.18 L195.1 209.18 L195.35 209.18 L195.6 209.18 L195.85 209.18 L196.1 209.18 L196.35 209.18 L196.6 209.18 L196.85 209.18 L197.1 209.18 L197.35 209.18 L197.6 209.18 L197.85 209.18 L198.1 209.18 L198.35 209.18 L198.6 209.18 L198.85 209.18 L199.1 209.18 L199.35 209.18 L199.6 209.18 L199.85 209.18 L200.1 209.18 L200.35 209.18 L200.6 209.18 L200.85 209.18 L201.1 209.18 L201.35 209.18 L201.6 209.18 L201.85 209.18 L202.1 209.18 L202.35 209.18 L202.6 209.18 L202.85 209.18 L203.1 209.17 L203.35 209.17 L203.6 209.17 L203.85 209.17 L204.1 209.17 L204.35 209.17 L204.6 209.17 L204.85 209.17 L205.1 209.17 L205.35 209.17 L205.6 209.17 L205.85 209.17 L206.1 209.17 L206.35 209.17 L206.6 209.17 L206.85 209.17 L207.1 209.16 L207.35 209.16 L207.6 209.16 L207.85 209.16 L208.1 209.16 L208.35 209.16 L208.6 209.16 L208.85 209.15 L209.1 209.15 L209.35 209.15 L209.6 209.15 L209.85 209.14 L210.1 209.14 L210.35 209.14 L210.6 209.13 L210.85 209.13 L211.1 209.12 L211.35 209.12 L211.6 209.11 L211.85 209.11 L212.1 209.1 L212.35 209.09 L212.6 209.08 L212.85 209.07 L213.1 209.06 L213.35 209.04 L213.6 209.02 L213.85 209 L214.1 208.97 L214.35 208.94 L214.6 208.9 L214.85 208.84 L215.1 208.78 L215.35 208.69 L215.6 208.56 L215.85 208.39 L216.1 208.14 L216.35 207.75 L216.43 207.58 L216.52 207.37 L216.6 207.12 L216.66 206.9 L216.72 206.64 L216.79 206.34 L216.85 205.99 L216.88 205.8 L216.91 205.58 L216.94 205.35 L216.97 205.1 L217.01 204.82 L217.04 204.52 L217.07 204.19 L217.1 203.83 L217.12 203.63 L217.13 203.41 L217.15 203.19 L217.17 202.95 L217.18 202.71 L217.2 202.45 L217.22 202.18 L217.23 201.9 L217.25 201.6 L217.27 201.3 L217.28 200.98 L217.3 200.64 L217.32 200.3 L217.33 199.94 L217.35 199.57 L217.36 199.29 L217.38 199 L217.39 198.7 L217.4 198.4 L217.41 198.09 L217.42 197.78 L217.44 197.47 L217.45 197.16 L217.46 196.84 L217.47 196.53 L217.49 196.21 L217.5 195.9 L217.51 195.6 L217.53 195.3 L217.54 195.01 L217.55 194.73 L217.56 194.47 L217.57 194.22 L217.59 193.98 L217.6 193.77 L217.66 193.02 L217.72 192.95 L217.79 193.57 L217.85 194.73 L217.86 195.01 L217.88 195.3 L217.89 195.6 L217.9 195.9 L217.91 196.21 L217.92 196.53 L217.94 196.84 L217.95 197.16 L217.96 197.47 L217.97 197.78 L217.99 198.09 L218 198.4 L218.01 198.7 L218.03 199 L218.04 199.29 L218.05 199.57 L218.06 199.85 L218.07 200.12 L218.09 200.39 L218.1 200.64 L218.12 201.03 L218.14 201.39 L218.16 201.74 L218.18 202.07 L218.2 202.39 L218.22 202.69 L218.23 202.97 L218.25 203.24 L218.27 203.5 L218.29 203.74 L218.31 203.97 L218.33 204.18 L218.35 204.39 L218.39 204.74 L218.42 205.06 L218.46 205.36 L218.49 205.62 L218.53 205.86 L218.56 206.08 L218.6 206.28 L218.66 206.58 L218.72 206.85 L218.79 207.08 L218.85 207.27 L219.1 207.85 L219.35 208.2 L219.6 208.43 L219.85 208.59 L220.1 208.71 L220.35 208.79 L220.6 208.86 L220.85 208.91 L221.1 208.95 L221.35 208.98 L221.6 209 L221.85 209.03 L222.1 209.04 L222.35 209.06 L222.6 209.07 L222.85 209.08 L223.1 209.09 L223.35 209.1 L223.6 209.11 L223.85 209.11 L224.1 209.12 L224.35 209.13 L224.6 209.13 L224.85 209.13 L225.1 209.14 L225.35 209.14 L225.6 209.14 L225.85 209.15 L226.1 209.15 L226.35 209.15 L226.6 209.15 L226.85 209.16 L227.1 209.16 L227.35 209.16 L227.6 209.16 L227.85 209.16 L228.1 209.16 L228.35 209.16 L228.6 209.16 L228.85 209.17 L229.1 209.17 L229.35 209.17 L229.6 209.17 L229.85 209.17 L230.1 209.17 L230.35 209.17 L230.6 209.17 L230.85 209.17 L231.1 209.17 L231.35 209.17 L231.6 209.17 L231.85 209.17 L232.1 209.17 L232.35 209.17 L232.6 209.17 L232.85 209.17 L233.1 209.17 L233.35 209.17 L233.6 209.17 L233.85 209.17 L234.1 209.17 L234.35 209.17 L234.6 209.17 L234.85 209.17 L235.1 209.17 L235.35 209.17 L235.6 209.17 L235.85 209.17 L236.1 209.17 L236.35 209.17 L236.6 209.17 L236.85 209.17 L237.1 209.17 L237.35 209.17 L237.6 209.17 L237.85 209.17 L238.1 209.17 L238.35 209.17 L238.6 209.17 L238.85 209.17 L239.1 209.16 L239.35 209.16 L239.6 209.16 L239.85 209.16 L240.1 209.16 L240.35 209.16 L240.6 209.16 L240.85 209.16 L241.1 209.15 L241.35 209.15 L241.6 209.15 L241.85 209.15 L242.1 209.14 L242.35 209.14 L242.6 209.14 L242.85 209.13 L243.1 209.13 L243.35 209.12 L243.6 209.12 L243.85 209.11 L244.1 209.1 L244.35 209.09 L244.6 209.08 L244.85 209.06 L245.1 209.04 L245.35 209.02 L245.6 208.99 L245.85 208.95 L246.1 208.89 L246.35 208.81 L246.6 208.68 L246.85 208.48 L247.1 208.17 L247.35 207.71 L247.6 207.28 L247.85 207.31 L248.1 207.72 L248.35 208.09 L248.6 208.3 L248.85 208.38 L249.1 208.35 L249.35 208.2 L249.6 207.89 L249.85 207.29 L249.91 207.07 L249.97 206.82 L250.04 206.54 L250.1 206.21 L250.15 205.93 L250.2 205.64 L250.25 205.34 L250.3 205.06 L250.35 204.81 L250.6 204.61 L250.65 204.81 L250.7 205.06 L250.75 205.35 L250.8 205.65 L250.85 205.94 L250.91 206.29 L250.97 206.61 L251.04 206.89 L251.1 207.14 L251.18 207.41 L251.27 207.64 L251.35 207.82 L251.6 208.2 L251.85 208.39 L252.1 208.49 L252.35 208.51 L252.6 208.45 L252.85 208.29 L253.1 207.96 L253.18 207.8 L253.27 207.59 L253.35 207.35 L253.41 207.13 L253.47 206.91 L253.54 206.67 L253.6 206.44 L253.85 206.07 L253.93 206.24 L254.02 206.52 L254.1 206.84 L254.18 207.16 L254.27 207.45 L254.35 207.7 L254.6 208.22 L254.85 208.51 L255.1 208.68 L255.35 208.78 L255.6 208.85 L255.85 208.89 L256.1 208.91 L256.35 208.92 L256.6 208.91 L256.85 208.89 L257.1 208.86 L257.35 208.79 L257.6 208.68 L257.85 208.52 L258.1 208.32 L258.35 208.19 L258.6 208.25 L258.85 208.45 L259.1 208.63 L259.35 208.76 L259.6 208.84 L259.85 208.9 L260.1 208.93 L260.35 208.95 L260.6 208.95 L260.85 208.95 L261.1 208.95 L261.35 208.93 L261.6 208.91 L261.85 208.87 L262.1 208.82 L262.35 208.76 L262.6 208.66 L262.85 208.53 L263.1 208.32 L263.35 207.99 L263.6 207.44 L263.66 207.24 L263.73 207.01 L263.79 206.74 L263.85 206.42 L263.89 206.21 L263.92 205.98 L263.96 205.72 L263.99 205.44 L264.03 205.13 L264.06 204.79 L264.1 204.41 L264.12 204.19 L264.14 203.96 L264.16 203.71 L264.18 203.46 L264.2 203.19 L264.22 202.91 L264.23 202.62 L264.25 202.32 L264.27 202.01 L264.29 201.68 L264.31 201.35 L264.33 201.02 L264.35 200.68 L264.37 200.27 L264.4 199.87 L264.42 199.48 L264.44 199.11 L264.46 198.76 L264.49 198.45 L264.51 198.18 L264.53 197.96 L264.55 197.8 L264.58 197.7 L264.6 197.67 L264.62 197.7 L264.65 197.8 L264.67 197.96 L264.69 198.18 L264.71 198.45 L264.74 198.77 L264.76 199.11 L264.78 199.48 L264.8 199.87 L264.83 200.27 L264.85 200.68 L264.87 201.02 L264.89 201.36 L264.91 201.69 L264.93 202.01 L264.95 202.32 L264.97 202.62 L264.98 202.92 L265 203.2 L265.02 203.46 L265.04 203.72 L265.06 203.96 L265.08 204.19 L265.1 204.41 L265.14 204.79 L265.17 205.14 L265.21 205.45 L265.24 205.73 L265.28 205.99 L265.31 206.22 L265.35 206.43 L265.41 206.75 L265.48 207.02 L265.54 207.25 L265.6 207.45 L265.85 208.01 L266.1 208.34 L266.35 208.55 L266.6 208.69 L266.85 208.79 L267.1 208.86 L267.35 208.92 L267.6 208.96 L267.85 208.99 L268.1 209.02 L268.35 209.04 L268.6 209.06 L268.85 209.07 L269.1 209.08 L269.35 209.09 L269.6 209.1 L269.85 209.11 L270.1 209.12 L270.35 209.12 L270.6 209.13 L270.85 209.13 L271.1 209.14 L271.35 209.14 L271.6 209.14 L271.85 209.15 L272.1 209.15 L272.35 209.15 L272.6 209.15 L272.85 209.16 L273.1 209.16 L273.35 209.16 L273.6 209.16 L273.85 209.16 L274.1 209.16 L274.35 209.16 L274.6 209.17 L274.85 209.17 L275.1 209.17 L275.35 209.17 L275.6 209.17 L275.85 209.17 L276.1 209.17 L276.35 209.17 L276.6 209.17 L276.85 209.17 L277.1 209.17 L277.35 209.17 L277.6 209.17 L277.85 209.18 L278.1 209.18 L278.35 209.18 L278.6 209.18 L278.85 209.18 L279.1 209.18 L279.35 209.18 L279.6 209.18 L279.85 209.18 L280.1 209.18 L280.35 209.18 L280.6 209.18 L280.85 209.18 L281.1 209.18 L281.35 209.18 L281.6 209.18 L281.85 209.18 L282.1 209.18 L282.35 209.18 L282.6 209.18 L282.85 209.18 L283.1 209.18 L283.35 209.18 L283.6 209.18 L283.85 209.18 L284.1 209.18 L284.35 209.18 L284.6 209.18 L284.85 209.18 L285.1 209.18 L285.35 209.18 L285.6 209.18 L285.85 209.18 L286.1 209.18 L286.35 209.18 L286.6 209.18 L286.85 209.18 L287.1 209.18 L287.35 209.18 L287.6 209.18 L287.85 209.18 L288.1 209.18 L288.35 209.18 L288.6 209.18 L288.85 209.17 L289.1 209.17 L289.35 209.17 L289.6 209.17 L289.85 209.17 L290.1 209.17 L290.35 209.17 L290.6 209.17 L290.85 209.17 L291.1 209.17 L291.35 209.17 L291.6 209.17 L291.85 209.16 L292.1 209.16 L292.35 209.16 L292.6 209.16 L292.85 209.16 L293.1 209.16 L293.35 209.15 L293.6 209.15 L293.85 209.15 L294.1 209.15 L294.35 209.14 L294.6 209.14 L294.85 209.13 L295.1 209.13 L295.35 209.12 L295.6 209.12 L295.85 209.11 L296.1 209.1 L296.35 209.09 L296.6 209.08 L296.85 209.06 L297.1 209.04 L297.35 209.02 L297.6 208.99 L297.85 208.95 L298.1 208.9 L298.35 208.83 L298.6 208.74 L298.85 208.6 L299.1 208.41 L299.35 208.14 L299.6 207.77 L299.85 207.33 L300.1 207.01 L300.35 207.05 L300.6 207.41 L300.85 207.84 L301.1 208.2 L301.35 208.45 L301.6 208.62 L301.85 208.75 L302.1 208.83 L302.35 208.89 L302.6 208.94 L302.85 208.97 L303.1 209 L303.35 209.02 L303.6 209.04 L303.85 209.05 L304.1 209.06 L304.35 209.06 L304.6 209.07 L304.85 209.07 L305.1 209.07 L305.35 209.07 L305.6 209.07 L305.85 209.07 L306.1 209.06 L306.35 209.06 L306.6 209.05 L306.85 209.04 L307.1 209.03 L307.35 209.02 L307.6 209 L307.85 208.98 L308.1 208.96 L308.35 208.93 L308.6 208.89 L308.85 208.84 L309.1 208.77 L309.35 208.69 L309.6 208.57 L309.85 208.4 L310.1 208.16 L310.35 207.78 L310.43 207.61 L310.52 207.41 L310.6 207.17 L310.66 206.95 L310.73 206.71 L310.79 206.42 L310.85 206.08 L310.89 205.86 L310.92 205.62 L310.96 205.35 L310.99 205.06 L311.03 204.74 L311.06 204.38 L311.1 203.98 L311.12 203.77 L311.14 203.55 L311.15 203.31 L311.17 203.07 L311.19 202.81 L311.21 202.53 L311.23 202.25 L311.24 201.95 L311.26 201.64 L311.28 201.31 L311.3 200.97 L311.31 200.61 L311.33 200.24 L311.35 199.86 L311.36 199.57 L311.38 199.27 L311.39 198.97 L311.4 198.66 L311.42 198.34 L311.43 198.03 L311.44 197.71 L311.46 197.39 L311.47 197.06 L311.48 196.74 L311.49 196.43 L311.51 196.11 L311.52 195.81 L311.53 195.51 L311.55 195.22 L311.56 194.95 L311.57 194.69 L311.59 194.45 L311.6 194.23 L311.66 193.51 L311.73 193.44 L311.79 194.04 L311.85 195.17 L311.86 195.44 L311.88 195.72 L311.89 196.01 L311.9 196.3 L311.91 196.6 L311.93 196.9 L311.94 197.21 L311.95 197.52 L311.96 197.82 L311.98 198.12 L311.99 198.42 L312 198.72 L312.01 199.01 L312.03 199.3 L312.04 199.58 L312.05 199.86 L312.06 200.13 L312.08 200.39 L312.09 200.65 L312.1 200.9 L312.12 201.27 L312.14 201.62 L312.16 201.96 L312.18 202.28 L312.2 202.59 L312.22 202.88 L312.23 203.15 L312.25 203.41 L312.27 203.66 L312.29 203.9 L312.31 204.12 L312.33 204.33 L312.35 204.53 L312.39 204.87 L312.42 205.18 L312.46 205.46 L312.49 205.72 L312.53 205.95 L312.56 206.16 L312.6 206.36 L312.66 206.66 L312.73 206.91 L312.79 207.13 L312.85 207.32 L313.1 207.88 L313.35 208.22 L313.6 208.45 L313.85 208.6 L314.1 208.71 L314.35 208.8 L314.6 208.86 L314.85 208.91 L315.1 208.95 L315.35 208.98 L315.6 209 L315.85 209.02 L316.1 209.04 L316.35 209.06 L316.6 209.07 L316.85 209.08 L317.1 209.09 L317.35 209.1 L317.6 209.1 L317.85 209.11 L318.1 209.12 L318.35 209.12 L318.6 209.13 L318.85 209.13 L319.1 209.13 L319.35 209.14 L319.6 209.14 L319.85 209.14 L320.1 209.14 L320.35 209.15 L320.6 209.15 L320.85 209.15 L321.1 209.15 L321.35 209.15 L321.6 209.15 L321.85 209.15 L322.1 209.15 L322.35 209.16 L322.6 209.16 L322.85 209.16 L323.1 209.16 L323.35 209.16 L323.6 209.16 L323.85 209.16 L324.1 209.16 L324.35 209.16 L324.6 209.15 L324.85 209.15 L325.1 209.15 L325.35 209.15 L325.6 209.15 L325.85 209.15 L326.1 209.15 L326.35 209.14 L326.6 209.14 L326.85 209.14 L327.1 209.13 L327.35 209.13 L327.6 209.12 L327.85 209.11 L328.1 209.1 L328.35 209.09 L328.6 209.07 L328.85 209.05 L329.1 209.02 L329.35 208.99 L329.6 208.94 L329.85 208.87 L330.1 208.78 L330.35 208.65 L330.6 208.49 L330.85 208.31 L331.1 208.19 L331.35 208.21 L331.6 208.35 L331.85 208.52 L332.1 208.68 L332.35 208.8 L332.6 208.89 L332.85 208.95 L333.1 209 L333.35 209.03 L333.6 209.06 L333.85 209.08 L334.1 209.09 L334.35 209.11 L334.6 209.12 L334.85 209.12 L335.1 209.13 L335.35 209.14 L335.6 209.14 L335.85 209.14 L336.1 209.15 L336.35 209.15 L336.6 209.15 L336.85 209.16 L337.1 209.16 L337.35 209.16 L337.6 209.16 L337.85 209.16 L338.1 209.16 L338.35 209.16 L338.6 209.16 L338.85 209.17 L339.1 209.17 L339.35 209.17 L339.6 209.17 L339.85 209.17 L340.1 209.17 L340.35 209.17 L340.6 209.17 L340.85 209.17 L341.1 209.17 L341.35 209.17 L341.6 209.17 L341.85 209.17 L342.1 209.17 L342.35 209.17 L342.6 209.17 L342.85 209.17 L343.1 209.17 L343.35 209.17 L343.6 209.17 L343.85 209.17 L344.1 209.16 L344.35 209.16 L344.6 209.16 L344.85 209.16 L345.1 209.16 L345.35 209.16 L345.6 209.16 L345.85 209.16 L346.1 209.16 L346.35 209.16 L346.6 209.16 L346.85 209.16 L347.1 209.15 L347.35 209.15 L347.6 209.15 L347.85 209.15 L348.1 209.15 L348.35 209.15 L348.6 209.14 L348.85 209.14 L349.1 209.14 L349.35 209.14 L349.6 209.14 L349.85 209.13 L350.1 209.13 L350.35 209.13 L350.6 209.12 L350.85 209.12 L351.1 209.11 L351.35 209.11 L351.6 209.1 L351.85 209.1 L352.1 209.09 L352.35 209.09 L352.6 209.08 L352.85 209.07 L353.1 209.06 L353.35 209.05 L353.6 209.04 L353.85 209.02 L354.1 209.01 L354.35 208.99 L354.6 208.97 L354.85 208.94 L355.1 208.91 L355.35 208.87 L355.6 208.83 L355.85 208.78 L356.1 208.71 L356.35 208.62 L356.6 208.52 L356.85 208.37 L357.1 208.18 L357.35 207.9 L357.6 207.5 L357.68 207.33 L357.77 207.12 L357.85 206.89 L357.91 206.68 L357.98 206.45 L358.04 206.18 L358.1 205.88 L358.14 205.65 L358.18 205.4 L358.23 205.12 L358.27 204.82 L358.31 204.48 L358.35 204.1 L358.37 203.89 L358.39 203.68 L358.41 203.45 L358.43 203.2 L358.45 202.95 L358.48 202.68 L358.5 202.39 L358.52 202.08 L358.54 201.76 L358.56 201.42 L358.58 201.06 L358.6 200.67 L358.61 200.46 L358.62 200.25 L358.63 200.02 L358.64 199.8 L358.65 199.56 L358.67 199.31 L358.68 199.06 L358.69 198.8 L358.7 198.54 L358.71 198.26 L358.72 197.98 L358.73 197.69 L358.74 197.39 L358.75 197.08 L358.76 196.77 L358.77 196.44 L358.78 196.11 L358.8 195.77 L358.81 195.42 L358.82 195.06 L358.83 194.69 L358.84 194.31 L358.85 193.93 L358.86 193.64 L358.87 193.35 L358.87 193.05 L358.88 192.75 L358.89 192.44 L358.9 192.13 L358.91 191.82 L358.91 191.51 L358.92 191.19 L358.93 190.87 L358.94 190.55 L358.95 190.23 L358.95 189.91 L358.96 189.59 L358.97 189.27 L358.98 188.95 L358.99 188.63 L359 188.31 L359 188 L359.01 187.69 L359.02 187.38 L359.03 187.08 L359.04 186.78 L359.04 186.5 L359.05 186.22 L359.06 185.94 L359.07 185.68 L359.08 185.43 L359.08 185.18 L359.09 184.95 L359.1 184.74 L359.14 183.84 L359.18 183.39 L359.23 183.44 L359.27 183.98 L359.31 184.96 L359.35 186.27 L359.36 186.54 L359.37 186.82 L359.37 187.11 L359.38 187.4 L359.39 187.69 L359.4 188 L359.4 188.3 L359.41 188.61 L359.42 188.91 L359.43 189.22 L359.44 189.54 L359.44 189.85 L359.45 190.16 L359.46 190.47 L359.47 190.78 L359.48 191.09 L359.48 191.39 L359.49 191.7 L359.5 192 L359.51 192.3 L359.51 192.6 L359.52 192.89 L359.53 193.18 L359.54 193.47 L359.55 193.75 L359.55 194.03 L359.56 194.3 L359.57 194.58 L359.58 194.84 L359.58 195.1 L359.59 195.36 L359.6 195.62 L359.61 196.01 L359.62 196.4 L359.64 196.77 L359.65 197.13 L359.66 197.48 L359.68 197.82 L359.69 198.15 L359.7 198.47 L359.71 198.78 L359.73 199.07 L359.74 199.36 L359.75 199.64 L359.76 199.91 L359.78 200.16 L359.79 200.41 L359.8 200.66 L359.81 200.89 L359.83 201.11 L359.84 201.33 L359.85 201.54 L359.88 201.94 L359.9 202.31 L359.93 202.65 L359.95 202.98 L359.98 203.28 L360 203.56 L360.03 203.83 L360.05 204.07 L360.08 204.3 L360.1 204.52 L360.14 204.85 L360.18 205.15 L360.23 205.42 L360.27 205.67 L360.31 205.89 L360.35 206.09 L360.43 206.44 L360.52 206.74 L360.6 206.99 L360.85 207.54 L361.1 207.89 L361.35 208.13 L361.6 208.29 L361.85 208.4 L362.1 208.47 L362.35 208.5 L362.6 208.48 L362.85 208.42 L363.1 208.28 L363.35 208.03 L363.6 207.61 L363.85 207.16 L364.1 207.12 L364.35 207.56 L364.6 208.04 L364.85 208.37 L365.1 208.57 L365.35 208.7 L365.6 208.78 L365.85 208.84 L366.1 208.87 L366.35 208.9 L366.6 208.91 L366.85 208.92 L367.1 208.91 L367.35 208.9 L367.6 208.88 L367.85 208.84 L368.1 208.78 L368.35 208.68 L368.6 208.52 L368.85 208.26 L369.1 207.86 L369.35 207.44 L369.6 207.38 L369.85 207.75 L370.1 208.16 L370.35 208.43 L370.6 208.59 L370.85 208.67 L371.1 208.71 L371.35 208.72 L371.6 208.69 L371.85 208.64 L372.1 208.55 L372.35 208.42 L372.6 208.21 L372.85 207.91 L373.1 207.49 L373.35 207 L373.6 206.64 L373.85 206.68 L374.1 207.1 L374.35 207.59 L374.6 207.99 L374.85 208.27 L375.1 208.46 L375.35 208.59 L375.6 208.67 L375.85 208.72 L376.1 208.74 L376.35 208.73 L376.6 208.68 L376.85 208.59 L377.1 208.43 L377.35 208.2 L377.6 207.96 L377.85 207.88 L378.1 208.08 L378.35 208.36 L378.6 208.59 L378.85 208.74 L379.1 208.85 L379.35 208.92 L379.6 208.97 L379.85 209.01 L380.1 209.03 L380.35 209.06 L380.6 209.07 L380.85 209.08 L381.1 209.1 L381.35 209.1 L381.6 209.11 L381.85 209.12 L382.1 209.12 L382.35 209.13 L382.6 209.13 L382.85 209.14 L383.1 209.14 L383.35 209.14 L383.6 209.15 L383.85 209.15 L384.1 209.15 L384.35 209.15 L384.6 209.15 L384.85 209.15 L385.1 209.16 L385.35 209.16 L385.6 209.16 L385.85 209.16 L386.1 209.16 L386.35 209.16 L386.6 209.16 L386.85 209.16 L387.1 209.16 L387.35 209.16 L387.6 209.16 L387.85 209.17 L388.1 209.17 L388.35 209.17 L388.6 209.17 L388.85 209.17 L389.1 209.17 L389.35 209.17 L389.6 209.17 L389.85 209.17 L390.1 209.17 L390.35 209.17 L390.6 209.17 L390.85 209.17 L391.1 209.17 L391.35 209.17 L391.6 209.17 L391.85 209.17 L392.1 209.17 L392.35 209.17 L392.6 209.17 L392.85 209.16 L393.1 209.16 L393.35 209.16 L393.6 209.16 L393.85 209.16 L394.1 209.16 L394.35 209.16 L394.6 209.16 L394.85 209.16 L395.1 209.16 L395.35 209.16 L395.6 209.15 L395.85 209.15 L396.1 209.15 L396.35 209.15 L396.6 209.15 L396.85 209.14 L397.1 209.14 L397.35 209.14 L397.6 209.13 L397.85 209.13 L398.1 209.12 L398.35 209.12 L398.6 209.11 L398.85 209.11 L399.1 209.1 L399.35 209.09 L399.6 209.08 L399.85 209.06 L400.1 209.05 L400.35 209.03 L400.6 209.01 L400.85 208.98 L401.1 208.94 L401.35 208.89 L401.6 208.83 L401.85 208.74 L402.1 208.62 L402.35 208.44 L402.6 208.19 L402.85 207.86 L403.1 207.49 L403.35 207.26 L403.6 207.33 L403.85 207.64 L404.1 207.95 L404.35 208.18 L404.6 208.33 L404.85 208.39 L405.1 208.39 L405.35 208.32 L405.6 208.17 L405.85 207.91 L406.1 207.44 L406.18 207.21 L406.27 206.94 L406.35 206.6 L406.39 206.4 L406.43 206.19 L406.48 205.95 L406.52 205.68 L406.56 205.39 L406.6 205.08 L406.63 204.82 L406.66 204.55 L406.69 204.26 L406.73 203.96 L406.76 203.65 L406.79 203.33 L406.82 203.01 L406.85 202.69 L406.89 202.27 L406.93 201.89 L406.98 201.56 L407.02 201.31 L407.06 201.15 L407.1 201.1 L407.14 201.16 L407.18 201.32 L407.23 201.57 L407.27 201.9 L407.31 202.29 L407.35 202.71 L407.38 202.99 L407.41 203.28 L407.43 203.57 L407.46 203.85 L407.49 204.13 L407.52 204.39 L407.54 204.64 L407.57 204.88 L407.6 205.11 L407.64 205.43 L407.68 205.73 L407.73 205.99 L407.77 206.24 L407.81 206.46 L407.85 206.66 L407.93 207 L408.02 207.28 L408.1 207.52 L408.35 208.02 L408.6 208.32 L408.85 208.51 L409.1 208.64 L409.35 208.73 L409.6 208.79 L409.85 208.83 L410.1 208.84 L410.35 208.84 L410.6 208.81 L410.85 208.74 L411.1 208.6 L411.35 208.4 L411.6 208.2 L411.85 208.24 L412.1 208.48 L412.35 208.7 L412.6 208.84 L412.85 208.93 L413.1 208.99 L413.35 209.03 L413.6 209.06 L413.85 209.08 L414.1 209.09 L414.35 209.1 L414.6 209.11 L414.85 209.12 L415.1 209.13 L415.35 209.13 L415.6 209.14 L415.85 209.14 L416.1 209.15" fill="none" stroke="#000" stroke-width="1.5" stroke-linejoin="round"/>
<path d="M150.6 108.48 L150.85 108.47 L151.1 108.47 L151.35 108.47 L151.6 108.47 L151.85 108.47 L152.1 108.47 L152.35 108.47 L152.6 108.47 L152.85 108.47 L153.1 108.47 L153.35 108.47 L153.6 108.47 L153.85 108.47 L154.1 108.46 L154.35 108.46 L154.6 108.46 L154.85 108.46 L155.1 108.46 L155.35 108.46 L155.6 108.46 L155.85 108.46 L156.1 108.45 L156.35 108.45 L156.6 108.45 L156.85 108.45 L157.1 108.45 L157.35 108.45 L157.6 108.44 L157.85 108.44 L158.1 108.44 L158.35 108.44 L158.6 108.43 L158.85 108.43 L159.1 108.43 L159.35 108.43 L159.6 108.42 L159.85 108.42 L160.1 108.42 L160.35 108.41 L160.6 108.41 L160.85 108.4 L161.1 108.4 L161.35 108.39 L161.6 108.39 L161.85 108.38 L162.1 108.38 L162.35 108.37 L162.6 108.36 L162.85 108.35 L163.1 108.34 L163.35 108.33 L163.6 108.32 L163.85 108.31 L164.1 108.3 L164.35 108.28 L164.6 108.27 L164.85 108.25 L165.1 108.23 L165.35 108.21 L165.6 108.18 L165.85 108.15 L166.1 108.12 L166.35 108.08 L166.6 108.03 L166.85 107.98 L167.1 107.91 L167.35 107.84 L167.6 107.75 L167.85 107.63 L168.1 107.49 L168.35 107.32 L168.6 107.09 L168.85 106.8 L169.1 106.4 L169.35 105.84 L169.43 105.6 L169.52 105.34 L169.6 105.03 L169.65 104.82 L169.7 104.6 L169.75 104.35 L169.8 104.08 L169.85 103.79 L169.89 103.56 L169.92 103.31 L169.96 103.05 L169.99 102.77 L170.03 102.46 L170.06 102.13 L170.1 101.77 L170.12 101.56 L170.14 101.35 L170.16 101.12 L170.18 100.88 L170.2 100.64 L170.22 100.38 L170.23 100.11 L170.25 99.82 L170.27 99.52 L170.29 99.21 L170.31 98.88 L170.33 98.53 L170.35 98.17 L170.36 97.96 L170.37 97.75 L170.38 97.53 L170.39 97.3 L170.4 97.07 L170.41 96.83 L170.42 96.59 L170.43 96.33 L170.44 96.07 L170.45 95.8 L170.46 95.52 L170.47 95.24 L170.49 94.94 L170.5 94.64 L170.51 94.32 L170.52 94 L170.53 93.66 L170.54 93.31 L170.55 92.96 L170.56 92.58 L170.57 92.2 L170.58 91.81 L170.59 91.4 L170.6 90.97 L170.6 90.78 L170.61 90.6 L170.61 90.4 L170.62 90.21 L170.62 90.01 L170.63 89.81 L170.63 89.61 L170.64 89.4 L170.64 89.19 L170.64 88.98 L170.65 88.76 L170.65 88.54 L170.66 88.32 L170.66 88.09 L170.67 87.86 L170.67 87.63 L170.68 87.39 L170.68 87.15 L170.68 86.9 L170.69 86.66 L170.69 86.4 L170.7 86.15 L170.7 85.89 L170.71 85.62 L170.71 85.35 L170.72 85.08 L170.72 84.8 L170.72 84.52 L170.73 84.23 L170.73 83.94 L170.74 83.65 L170.74 83.35 L170.75 83.04 L170.75 82.73 L170.76 82.41 L170.76 82.09 L170.77 81.77 L170.77 81.44 L170.77 81.1 L170.78 80.76 L170.78 80.41 L170.79 80.06 L170.79 79.7 L170.8 79.33 L170.8 78.96 L170.81 78.58 L170.81 78.2 L170.81 77.81 L170.82 77.41 L170.82 77.01 L170.83 76.6 L170.83 76.18 L170.84 75.76 L170.84 75.33 L170.85 74.89 L170.85 74.44 L170.85 74.25 L170.85 74.05 L170.86 73.86 L170.86 73.66 L170.86 73.46 L170.86 73.26 L170.86 73.06 L170.87 72.85 L170.87 72.65 L170.87 72.44 L170.87 72.23 L170.87 72.02 L170.88 71.81 L170.88 71.6 L170.88 71.38 L170.88 71.17 L170.88 70.95 L170.88 70.73 L170.89 70.51 L170.89 70.29 L170.89 70.07 L170.89 69.84 L170.89 69.62 L170.9 69.39 L170.9 69.16 L170.9 68.93 L170.9 68.7 L170.9 68.46 L170.91 68.22 L170.91 67.99 L170.91 67.75 L170.91 67.51 L170.91 67.26 L170.92 67.02 L170.92 66.77 L170.92 66.53 L170.92 66.28 L170.92 66.03 L170.92 65.77 L170.93 65.52 L170.93 65.26 L170.93 65 L170.93 64.75 L170.93 64.48 L170.94 64.22 L170.94 63.96 L170.94 63.69 L170.94 63.42 L170.94 63.15 L170.95 62.88 L170.95 62.61 L170.95 62.33 L170.95 62.05 L170.95 61.77 L170.96 61.49 L170.96 61.21 L170.96 60.93 L170.96 60.64 L170.96 60.35 L170.97 60.06 L170.97 59.77 L170.97 59.48 L170.97 59.18 L170.97 58.88 L170.97 58.58 L170.98 58.28 L170.98 57.98 L170.98 57.68 L170.98 57.37 L170.98 57.06 L170.99 56.75 L170.99 56.44 L170.99 56.13 L170.99 55.81 L170.99 55.49 L171 55.17 L171 54.85 L171 54.53 L171 54.21 L171 53.88 L171.01 53.55 L171.01 53.22 L171.01 52.89 L171.01 52.56 L171.01 52.22 L171.02 51.88 L171.02 51.55 L171.02 51.21 L171.02 50.86 L171.02 50.52 L171.03 50.17 L171.03 49.83 L171.03 49.48 L171.03 49.13 L171.03 48.77 L171.03 48.42 L171.04 48.06 L171.04 47.71 L171.04 47.35 L171.04 46.99 L171.04 46.63 L171.05 46.26 L171.05 45.9 L171.05 45.53 L171.05 45.16 L171.05 44.79 L171.06 44.42 L171.06 44.05 L171.06 43.68 L171.06 43.3 L171.06 42.93 L171.07 42.55 L171.07 42.17 L171.07 41.79 L171.07 41.41 L171.07 41.03 L171.07 40.64 L171.08 40.26 L171.08 39.88 L171.08 39.49 L171.08 39.1 L171.08 38.71 L171.09 38.32 L171.09 37.93 L171.09 37.54 L171.09 37.15 L171.09 36.76 L171.1 36.37 L171.1 35.98 L171.1 35.58 L171.1 34.99 L171.11 34.4 L171.11 33.81 L171.11 33.22 L171.11 32.63 L171.12 32.04 L171.12 31.45 L171.12 30.86 L171.13 30.27 L171.13 29.68 L171.13 29.09 L171.13 28.5 L171.14 27.92 L171.14 27.33 L171.14 26.75 L171.15 26.17 L171.15 25.6 L171.15 25.02 L171.15 24.45 L171.16 23.88 L171.16 23.32 L171.16 22.76 L171.17 22.21 L171.17 21.66 L171.17 21.12 L171.17 20.58 L171.18 20.04 L171.18 19.52 L171.18 19 L171.19 18.48 L171.19 17.97 L171.19 17.48 L171.19 16.98 L171.2 16.5 L171.2 16.03 L171.2 15.56 L171.21 15.1 L171.21 14.66 L171.21 14.22 L171.21 13.79 L171.22 13.37 L171.22 12.97 L171.22 12.57 L171.23 12.19 L171.23 11.82 L171.23 11.46 L171.24 11.11 L171.24 10.78 L171.24 10.45 L171.24 10.15 L171.25 9.85 L171.25 9.57 L171.25 9.3 L171.26 9.05 L171.26 8.81 L171.26 8.59 L171.26 8.38 L171.27 8.19 L171.27 8.01 L171.27 7.85 L171.28 7.7 L171.28 7.57 L171.28 7.45 L171.28 7.35 L171.29 7.27 L171.29 7.2 L171.29 7.15 L171.3 7.12 L171.3 7.1 L171.3 7.1 L171.3 7.11 L171.31 7.15 L171.31 7.19 L171.31 7.26 L171.32 7.34 L171.32 7.43 L171.32 7.54 L171.32 7.67 L171.33 7.82 L171.33 7.98 L171.33 8.15 L171.34 8.34 L171.34 8.55 L171.34 8.77 L171.34 9 L171.35 9.25 L171.35 9.52 L171.35 9.67 L171.35 9.84 L171.35 10 L171.36 10.18 L171.36 10.35 L171.36 10.54 L171.36 10.72 L171.36 10.91 L171.36 11.1 L171.37 11.3 L171.37 11.51 L171.37 11.71 L171.37 11.92 L171.37 12.14 L171.37 12.36 L171.38 12.58 L171.38 12.81 L171.38 13.04 L171.38 13.27 L171.38 13.51 L171.38 13.75 L171.39 13.99 L171.39 14.24 L171.39 14.49 L171.39 14.75 L171.39 15 L171.39 15.26 L171.4 15.53 L171.4 15.8 L171.4 16.07 L171.4 16.34 L171.4 16.61 L171.4 16.89 L171.41 17.17 L171.41 17.46 L171.41 17.75 L171.41 18.03 L171.41 18.33 L171.41 18.62 L171.42 18.92 L171.42 19.21 L171.42 19.52 L171.42 19.82 L171.42 20.12 L171.42 20.43 L171.43 20.74 L171.43 21.05 L171.43 21.36 L171.43 21.68 L171.43 21.99 L171.43 22.31 L171.44 22.63 L171.44 22.95 L171.44 23.27 L171.44 23.6 L171.44 23.92 L171.44 24.25 L171.45 24.57 L171.45 24.9 L171.45 25.23 L171.45 25.56 L171.45 25.9 L171.45 26.23 L171.46 26.56 L171.46 26.9 L171.46 27.23 L171.46 27.57 L171.46 27.9 L171.46 28.24 L171.47 28.58 L171.47 28.92 L171.47 29.25 L171.47 29.59 L171.47 29.93 L171.47 30.27 L171.48 30.61 L171.48 30.95 L171.48 31.29 L171.48 31.63 L171.48 31.97 L171.48 32.32 L171.49 32.66 L171.49 33 L171.49 33.34 L171.49 33.68 L171.49 34.02 L171.49 34.36 L171.5 34.7 L171.5 35.04 L171.5 35.38 L171.5 35.72 L171.5 36.06 L171.5 36.39 L171.51 36.73 L171.51 37.07 L171.51 37.41 L171.51 37.74 L171.51 38.08 L171.51 38.41 L171.52 38.75 L171.52 39.08 L171.52 39.42 L171.52 39.75 L171.52 40.08 L171.52 40.41 L171.53 40.74 L171.53 41.07 L171.53 41.4 L171.53 41.73 L171.53 42.06 L171.53 42.38 L171.54 42.71 L171.54 43.03 L171.54 43.36 L171.54 43.68 L171.54 44 L171.54 44.32 L171.55 44.64 L171.55 44.96 L171.55 45.28 L171.55 45.59 L171.55 45.91 L171.55 46.22 L171.56 46.54 L171.56 46.85 L171.56 47.16 L171.56 47.47 L171.56 47.78 L171.56 48.09 L171.57 48.39 L171.57 48.7 L171.57 49 L171.57 49.3 L171.57 49.6 L171.57 49.9 L171.58 50.2 L171.58 50.5 L171.58 50.8 L171.58 51.09 L171.58 51.39 L171.58 51.68 L171.59 51.97 L171.59 52.26 L171.59 52.55 L171.59 52.84 L171.59 53.12 L171.59 53.41 L171.6 53.69 L171.6 53.97 L171.6 54.25 L171.6 54.53 L171.6 54.97 L171.61 55.41 L171.61 55.84 L171.61 56.28 L171.61 56.7 L171.62 57.13 L171.62 57.55 L171.62 57.97 L171.62 58.38 L171.63 58.79 L171.63 59.2 L171.63 59.6 L171.63 60 L171.64 60.4 L171.64 60.79 L171.64 61.18 L171.64 61.57 L171.65 61.95 L171.65 62.33 L171.65 62.71 L171.66 63.08 L171.66 63.45 L171.66 63.82 L171.66 64.18 L171.67 64.54 L171.67 64.9 L171.67 65.25 L171.67 65.6 L171.68 65.95 L171.68 66.29 L171.68 66.63 L171.68 66.97 L171.69 67.3 L171.69 67.63 L171.69 67.96 L171.69 68.29 L171.7 68.61 L171.7 68.93 L171.7 69.24 L171.71 69.56 L171.71 69.87 L171.71 70.17 L171.71 70.48 L171.72 70.78 L171.72 71.08 L171.72 71.37 L171.72 71.67 L171.73 71.96 L171.73 72.24 L171.73 72.53 L171.73 72.81 L171.74 73.09 L171.74 73.36 L171.74 73.64 L171.74 73.91 L171.75 74.18 L171.75 74.44 L171.75 74.71 L171.76 74.97 L171.76 75.23 L171.76 75.48 L171.76 75.73 L171.77 75.99 L171.77 76.23 L171.77 76.48 L171.77 76.72 L171.78 76.96 L171.78 77.2 L171.78 77.44 L171.78 77.67 L171.79 77.91 L171.79 78.14 L171.79 78.36 L171.79 78.59 L171.8 78.81 L171.8 79.03 L171.8 79.25 L171.81 79.47 L171.81 79.68 L171.81 79.9 L171.81 80.11 L171.82 80.32 L171.82 80.52 L171.82 80.73 L171.82 80.93 L171.83 81.13 L171.83 81.33 L171.83 81.53 L171.83 81.72 L171.84 81.92 L171.84 82.11 L171.84 82.3 L171.84 82.48 L171.85 82.67 L171.85 82.85 L171.86 83.3 L171.86 83.73 L171.87 84.15 L171.88 84.56 L171.88 84.96 L171.89 85.36 L171.89 85.74 L171.9 86.12 L171.91 86.49 L171.91 86.85 L171.92 87.2 L171.93 87.54 L171.93 87.88 L171.94 88.21 L171.95 88.53 L171.95 88.84 L171.96 89.15 L171.97 89.45 L171.97 89.75 L171.98 90.03 L171.98 90.32 L171.99 90.59 L172 90.86 L172 91.13 L172.01 91.39 L172.02 91.64 L172.02 91.89 L172.03 92.14 L172.04 92.37 L172.04 92.61 L172.05 92.84 L172.06 93.06 L172.06 93.28 L172.07 93.5 L172.07 93.71 L172.08 93.92 L172.09 94.12 L172.09 94.32 L172.1 94.51 L172.11 94.92 L172.13 95.32 L172.14 95.69 L172.16 96.05 L172.17 96.4 L172.18 96.74 L172.2 97.06 L172.21 97.36 L172.22 97.66 L172.24 97.95 L172.25 98.22 L172.27 98.48 L172.28 98.74 L172.29 98.98 L172.31 99.22 L172.32 99.45 L172.34 99.67 L172.35 99.88 L172.38 100.24 L172.4 100.59 L172.42 100.91 L172.45 101.21 L172.47 101.5 L172.5 101.77 L172.53 102.02 L172.55 102.26 L172.57 102.49 L172.6 102.71 L172.64 103.04 L172.68 103.35 L172.72 103.63 L172.77 103.89 L172.81 104.13 L172.85 104.35 L172.91 104.66 L172.97 104.93 L173.04 105.17 L173.1 105.39 L173.18 105.65 L173.27 105.88 L173.35 106.09 L173.6 106.57 L173.85 106.93 L174.1 107.19 L174.35 107.39 L174.6 107.55 L174.85 107.68 L175.1 107.78 L175.35 107.87 L175.6 107.94 L175.85 108 L176.1 108.05 L176.35 108.09 L176.6 108.13 L176.85 108.16 L177.1 108.19 L177.35 108.22 L177.6 108.24 L177.85 108.26 L178.1 108.27 L178.35 108.29 L178.6 108.3 L178.85 108.32 L179.1 108.33 L179.35 108.34 L179.6 108.35 L179.85 108.36 L180.1 108.36 L180.35 108.37 L180.6 108.38 L180.85 108.38 L181.1 108.39 L181.35 108.4 L181.6 108.4 L181.85 108.4 L182.1 108.41 L182.35 108.41 L182.6 108.42 L182.85 108.42 L183.1 108.42 L183.35 108.43 L183.6 108.43 L183.85 108.43 L184.1 108.43 L184.35 108.44 L184.6 108.44 L184.85 108.44 L185.1 108.44 L185.35 108.45 L185.6 108.45 L185.85 108.45 L186.1 108.45 L186.35 108.45 L186.6 108.45 L186.85 108.45 L187.1 108.46 L187.35 108.46 L187.6 108.46 L187.85 108.46 L188.1 108.46 L188.35 108.46 L188.6 108.46 L188.85 108.46 L189.1 108.46 L189.35 108.47 L189.6 108.47 L189.85 108.47 L190.1 108.47 L190.35 108.47 L190.6 108.47 L190.85 108.47 L191.1 108.47 L191.35 108.47 L191.6 108.47 L191.85 108.47 L192.1 108.47 L192.35 108.47 L192.6 108.47 L192.85 108.47 L193.1 108.47 L193.35 108.47 L193.6 108.48 L193.85 108.48 L194.1 108.48 L194.35 108.48 L194.6 108.48 L194.85 108.48 L195.1 108.48 L195.35 108.48 L195.6 108.48 L195.85 108.48 L196.1 108.48 L196.35 108.48 L196.6 108.48 L196.85 108.48 L197.1 108.48 L197.35 108.48 L197.6 108.48 L197.85 108.48 L198.1 108.48 L198.35 108.48 L198.6 108.48 L198.85 108.48 L199.1 108.48 L199.35 108.48 L199.6 108.48 L199.85 108.48 L200.1 108.48 L200.35 108.48 L200.6 108.48 L200.85 108.48 L201.1 108.48 L201.35 108.48 L201.6 108.48 L201.85 108.48 L202.1 108.48 L202.35 108.48 L202.6 108.48 L202.85 108.48 L203.1 108.48 L203.35 108.48 L203.6 108.48 L203.85 108.48 L204.1 108.48 L204.35 108.48 L204.6 108.48 L204.85 108.48 L205.1 108.48 L205.35 108.48 L205.6 108.48 L205.85 108.48 L206.1 108.48 L206.35 108.48 L206.6 108.48 L206.85 108.47 L207.1 108.47 L207.35 108.47 L207.6 108.47 L207.85 108.47 L208.1 108.47 L208.35 108.47 L208.6 108.47 L208.85 108.47 L209.1 108.47 L209.35 108.47 L209.6 108.46 L209.85 108.46 L210.1 108.46 L210.35 108.46 L210.6 108.46 L210.85 108.45 L211.1 108.45 L211.35 108.45 L211.6 108.45 L211.85 108.44 L212.1 108.44 L212.35 108.43 L212.6 108.43 L212.85 108.42 L213.1 108.41 L213.35 108.41 L213.6 108.4 L213.85 108.39 L214.1 108.37 L214.35 108.36 L214.6 108.34 L214.85 108.31 L215.1 108.28 L215.35 108.25 L215.6 108.2 L215.85 108.13 L216.1 108.05 L216.35 107.92 L216.6 107.75 L216.85 107.47 L217.1 107.03 L217.18 106.82 L217.27 106.57 L217.35 106.26 L217.4 106.04 L217.45 105.79 L217.5 105.51 L217.55 105.19 L217.6 104.82 L217.63 104.6 L217.66 104.35 L217.68 104.09 L217.71 103.82 L217.74 103.52 L217.77 103.2 L217.79 102.87 L217.82 102.51 L217.85 102.14 L217.87 101.85 L217.89 101.55 L217.91 101.25 L217.93 100.95 L217.95 100.64 L217.97 100.33 L218 100.04 L218.02 99.75 L218.04 99.47 L218.06 99.21 L218.08 98.98 L218.1 98.77 L218.35 99.31 L218.37 99.58 L218.39 99.86 L218.41 100.15 L218.43 100.46 L218.45 100.76 L218.47 101.07 L218.5 101.37 L218.52 101.67 L218.54 101.97 L218.56 102.25 L218.58 102.53 L218.6 102.8 L218.63 103.18 L218.66 103.53 L218.69 103.87 L218.72 104.17 L218.76 104.46 L218.79 104.72 L218.82 104.97 L218.85 105.19 L218.9 105.51 L218.95 105.79 L219 106.04 L219.05 106.26 L219.1 106.45 L219.18 106.73 L219.27 106.95 L219.35 107.14 L219.6 107.54 L219.85 107.79 L220.1 107.95 L220.35 108.07 L220.6 108.15 L220.85 108.21 L221.1 108.25 L221.35 108.29 L221.6 108.32 L221.85 108.34 L222.1 108.36 L222.35 108.38 L222.6 108.39 L222.85 108.4 L223.1 108.41 L223.35 108.42 L223.6 108.42 L223.85 108.43 L224.1 108.44 L224.35 108.44 L224.6 108.44 L224.85 108.45 L225.1 108.45 L225.35 108.45 L225.6 108.46 L225.85 108.46 L226.1 108.46 L226.35 108.46 L226.6 108.47 L226.85 108.47 L227.1 108.47 L227.35 108.47 L227.6 108.47 L227.85 108.47 L228.1 108.47 L228.35 108.48 L228.6 108.48 L228.85 108.48 L229.1 108.48 L229.35 108.48 L229.6 108.48 L229.85 108.48 L230.1 108.48 L230.35 108.48 L230.6 108.48 L230.85 108.48 L231.1 108.48 L231.35 108.48 L231.6 108.48 L231.85 108.48 L232.1 108.48 L232.35 108.48 L232.6 108.49 L232.85 108.49 L233.1 108.49 L233.35 108.49 L233.6 108.49 L233.85 108.49 L234.1 108.49 L234.35 108.49 L234.6 108.49 L234.85 108.49 L235.1 108.49 L235.35 108.49 L235.6 108.49 L235.85 108.49 L236.1 108.49 L236.35 108.49 L236.6 108.49 L236.85 108.49 L237.1 108.49 L237.35 108.49 L237.6 108.49 L237.85 108.49 L238.1 108.49 L238.35 108.49 L238.6 108.49 L238.85 108.49 L239.1 108.49 L239.35 108.49 L239.6 108.49 L239.85 108.49 L240.1 108.49 L240.35 108.49 L240.6 108.49 L240.85 108.49 L241.1 108.49 L241.35 108.49 L241.6 108.49 L241.85 108.49 L242.1 108.49 L242.35 108.49 L242.6 108.49 L242.85 108.49 L243.1 108.49 L243.35 108.49 L243.6 108.49 L243.85 108.49 L244.1 108.49 L244.35 108.49 L244.6 108.49 L244.85 108.49 L245.1 108.49 L245.35 108.49 L245.6 108.49 L245.85 108.49 L246.1 108.49 L246.35 108.49 L246.6 108.49 L246.85 108.49 L247.1 108.49 L247.35 108.49 L247.6 108.49 L247.85 108.49 L248.1 108.49 L248.35 108.49 L248.6 108.49 L248.85 108.49 L249.1 108.49 L249.35 108.49 L249.6 108.49 L249.85 108.49 L250.1 108.49 L250.35 108.49 L250.6 108.49 L250.85 108.49 L251.1 108.49 L251.35 108.49 L251.6 108.49 L251.85 108.49 L252.1 108.48 L252.35 108.48 L252.6 108.48 L252.85 108.48 L253.1 108.48 L253.35 108.48 L253.6 108.48 L253.85 108.48 L254.1 108.48 L254.35 108.48 L254.6 108.48 L254.85 108.48 L255.1 108.48 L255.35 108.48 L255.6 108.48 L255.85 108.47 L256.1 108.47 L256.35 108.47 L256.6 108.47 L256.85 108.47 L257.1 108.47 L257.35 108.46 L257.6 108.46 L257.85 108.46 L258.1 108.46 L258.35 108.45 L258.6 108.45 L258.85 108.44 L259.1 108.44 L259.35 108.43 L259.6 108.43 L259.85 108.42 L260.1 108.41 L260.35 108.4 L260.6 108.39 L260.85 108.38 L261.1 108.36 L261.35 108.34 L261.6 108.31 L261.85 108.28 L262.1 108.24 L262.35 108.18 L262.6 108.1 L262.85 107.99 L263.1 107.83 L263.35 107.6 L263.6 107.23 L263.68 107.06 L263.77 106.86 L263.85 106.62 L263.91 106.42 L263.98 106.19 L264.04 105.94 L264.1 105.66 L264.15 105.42 L264.2 105.17 L264.25 104.92 L264.3 104.66 L264.35 104.41 L264.43 104.04 L264.52 103.79 L264.6 103.7 L264.68 103.79 L264.77 104.04 L264.85 104.41 L264.9 104.66 L264.95 104.92 L265 105.17 L265.05 105.42 L265.1 105.66 L265.16 105.94 L265.23 106.19 L265.29 106.42 L265.35 106.62 L265.43 106.86 L265.52 107.06 L265.6 107.23 L265.85 107.6 L266.1 107.83 L266.35 107.99 L266.6 108.1 L266.85 108.18 L267.1 108.24 L267.35 108.28 L267.6 108.31 L267.85 108.34 L268.1 108.36 L268.35 108.38 L268.6 108.39 L268.85 108.4 L269.1 108.41 L269.35 108.42 L269.6 108.43 L269.85 108.43 L270.1 108.44 L270.35 108.45 L270.6 108.45 L270.85 108.45 L271.1 108.46 L271.35 108.46 L271.6 108.46 L271.85 108.46 L272.1 108.47 L272.35 108.47 L272.6 108.47 L272.85 108.47 L273.1 108.47 L273.35 108.47 L273.6 108.48 L273.85 108.48 L274.1 108.48 L274.35 108.48 L274.6 108.48 L274.85 108.48 L275.1 108.48 L275.35 108.48 L275.6 108.48 L275.85 108.48 L276.1 108.48 L276.35 108.48 L276.6 108.48 L276.85 108.49 L277.1 108.49 L277.35 108.49 L277.6 108.49 L277.85 108.49 L278.1 108.49 L278.35 108.49 L278.6 108.49 L278.85 108.49 L279.1 108.49 L279.35 108.49 L279.6 108.49 L279.85 108.49 L280.1 108.49 L280.35 108.49 L280.6 108.49 L280.85 108.49 L281.1 108.49 L281.35 108.49 L281.6 108.49 L281.85 108.49 L282.1 108.49 L282.35 108.49 L282.6 108.49 L282.85 108.49 L283.1 108.49 L283.35 108.49 L283.6 108.49 L283.85 108.49 L284.1 108.49 L284.35 108.49 L284.6 108.49 L284.85 108.49 L285.1 108.49 L285.35 108.49 L285.6 108.49 L285.85 108.49 L286.1 108.49 L286.35 108.49 L286.6 108.49 L286.85 108.49 L287.1 108.49 L287.35 108.49 L287.6 108.49 L287.85 108.49 L288.1 108.49 L288.35 108.49 L288.6 108.49 L288.85 108.49 L289.1 108.49 L289.35 108.49 L289.6 108.49 L289.85 108.49 L290.1 108.49 L290.35 108.49 L290.6 108.49 L290.85 108.49 L291.1 108.49 L291.35 108.49 L291.6 108.49 L291.85 108.49 L292.1 108.49 L292.35 108.49 L292.6 108.49 L292.85 108.49 L293.1 108.49 L293.35 108.49 L293.6 108.49 L293.85 108.49 L294.1 108.49 L294.35 108.49 L294.6 108.49 L294.85 108.49 L295.1 108.49 L295.35 108.49 L295.6 108.49 L295.85 108.49 L296.1 108.49 L296.35 108.49 L296.6 108.49 L296.85 108.49 L297.1 108.49 L297.35 108.49 L297.6 108.49 L297.85 108.49 L298.1 108.49 L298.35 108.49 L298.6 108.49 L298.85 108.49 L299.1 108.49 L299.35 108.49 L299.6 108.49 L299.85 108.48 L300.1 108.48 L300.35 108.48 L300.6 108.48 L300.85 108.48 L301.1 108.48 L301.35 108.48 L301.6 108.48 L301.85 108.48 L302.1 108.48 L302.35 108.48 L302.6 108.48 L302.85 108.48 L303.1 108.47 L303.35 108.47 L303.6 108.47 L303.85 108.47 L304.1 108.47 L304.35 108.47 L304.6 108.46 L304.85 108.46 L305.1 108.46 L305.35 108.46 L305.6 108.45 L305.85 108.45 L306.1 108.44 L306.35 108.44 L306.6 108.43 L306.85 108.43 L307.1 108.42 L307.35 108.41 L307.6 108.4 L307.85 108.39 L308.1 108.37 L308.35 108.36 L308.6 108.33 L308.85 108.31 L309.1 108.27 L309.35 108.23 L309.6 108.17 L309.85 108.08 L310.1 107.97 L310.35 107.8 L310.6 107.54 L310.85 107.13 L310.93 106.94 L311.02 106.72 L311.1 106.46 L311.16 106.24 L311.23 106 L311.29 105.72 L311.35 105.43 L311.4 105.17 L311.45 104.92 L311.5 104.66 L311.55 104.41 L311.6 104.18 L311.85 103.73 L311.91 103.86 L311.98 104.07 L312.04 104.35 L312.1 104.66 L312.15 104.92 L312.2 105.17 L312.25 105.43 L312.3 105.66 L312.35 105.89 L312.43 106.23 L312.52 106.52 L312.6 106.77 L312.85 107.32 L313.1 107.65 L313.35 107.87 L313.6 108.02 L313.85 108.12 L314.1 108.19 L314.35 108.25 L314.6 108.29 L314.85 108.32 L315.1 108.34 L315.35 108.36 L315.6 108.38 L315.85 108.39 L316.1 108.41 L316.35 108.42 L316.6 108.42 L316.85 108.43 L317.1 108.44 L317.35 108.44 L317.6 108.45 L317.85 108.45 L318.1 108.45 L318.35 108.46 L318.6 108.46 L318.85 108.46 L319.1 108.47 L319.35 108.47 L319.6 108.47 L319.85 108.47 L320.1 108.47 L320.35 108.47 L320.6 108.48 L320.85 108.48 L321.1 108.48 L321.35 108.48 L321.6 108.48 L321.85 108.48 L322.1 108.48 L322.35 108.48 L322.6 108.48 L322.85 108.48 L323.1 108.48 L323.35 108.48 L323.6 108.48 L323.85 108.49 L324.1 108.49 L324.35 108.49 L324.6 108.49 L324.85 108.49 L325.1 108.49 L325.35 108.49 L325.6 108.49 L325.85 108.49 L326.1 108.49 L326.35 108.49 L326.6 108.49 L326.85 108.49 L327.1 108.49 L327.35 108.49 L327.6 108.49 L327.85 108.49 L328.1 108.49 L328.35 108.49 L328.6 108.49 L328.85 108.49 L329.1 108.49 L329.35 108.49 L329.6 108.49 L329.85 108.49 L330.1 108.49 L330.35 108.49 L330.6 108.49 L330.85 108.49 L331.1 108.49 L331.35 108.49 L331.6 108.49 L331.85 108.49 L332.1 108.49 L332.35 108.49 L332.6 108.49 L332.85 108.49 L333.1 108.49 L333.35 108.49 L333.6 108.49 L333.85 108.49 L334.1 108.49 L334.35 108.49 L334.6 108.49 L334.85 108.49 L335.1 108.49 L335.35 108.49 L335.6 108.49 L335.85 108.49 L336.1 108.49 L336.35 108.49 L336.6 108.49 L336.85 108.49 L337.1 108.49 L337.35 108.49 L337.6 108.49 L337.85 108.49 L338.1 108.49 L338.35 108.49 L338.6 108.49 L338.85 108.49 L339.1 108.49 L339.35 108.49 L339.6 108.49 L339.85 108.49 L340.1 108.49 L340.35 108.49 L340.6 108.49 L340.85 108.49 L341.1 108.49 L341.35 108.49 L341.6 108.49 L341.85 108.49 L342.1 108.49 L342.35 108.49 L342.6 108.49 L342.85 108.49 L343.1 108.49 L343.35 108.49 L343.6 108.49 L343.85 108.49 L344.1 108.49 L344.35 108.49 L344.6 108.49 L344.85 108.49 L345.1 108.49 L345.35 108.49 L345.6 108.49 L345.85 108.49 L346.1 108.49 L346.35 108.48 L346.6 108.48 L346.85 108.48 L347.1 108.48 L347.35 108.48 L347.6 108.48 L347.85 108.48 L348.1 108.48 L348.35 108.48 L348.6 108.48 L348.85 108.48 L349.1 108.48 L349.35 108.48 L349.6 108.48 L349.85 108.47 L350.1 108.47 L350.35 108.47 L350.6 108.47 L350.85 108.47 L351.1 108.47 L351.35 108.46 L351.6 108.46 L351.85 108.46 L352.1 108.46 L352.35 108.45 L352.6 108.45 L352.85 108.45 L353.1 108.44 L353.35 108.44 L353.6 108.43 L353.85 108.43 L354.1 108.42 L354.35 108.41 L354.6 108.4 L354.85 108.39 L355.1 108.38 L355.35 108.37 L355.6 108.35 L355.85 108.32 L356.1 108.3 L356.35 108.26 L356.6 108.22 L356.85 108.16 L357.1 108.09 L357.35 107.98 L357.6 107.83 L357.85 107.62 L358.1 107.28 L358.35 106.74 L358.41 106.56 L358.48 106.34 L358.54 106.1 L358.6 105.83 L358.64 105.62 L358.68 105.4 L358.73 105.15 L358.77 104.89 L358.81 104.61 L358.85 104.31 L358.89 104.03 L358.92 103.75 L358.96 103.46 L358.99 103.16 L359.03 102.87 L359.06 102.58 L359.1 102.32 L359.18 101.8 L359.27 101.52 L359.35 101.56 L359.39 101.69 L359.43 101.89 L359.48 102.14 L359.52 102.44 L359.56 102.76 L359.6 103.1 L359.64 103.4 L359.67 103.69 L359.71 103.98 L359.74 104.25 L359.78 104.51 L359.81 104.76 L359.85 105 L359.9 105.3 L359.95 105.58 L360 105.83 L360.05 106.05 L360.1 106.25 L360.18 106.54 L360.27 106.79 L360.35 106.99 L360.6 107.44 L360.85 107.72 L361.1 107.9 L361.35 108.03 L361.6 108.12 L361.85 108.19 L362.1 108.24 L362.35 108.28 L362.6 108.31 L362.85 108.33 L363.1 108.35 L363.35 108.37 L363.6 108.39 L363.85 108.4 L364.1 108.41 L364.35 108.42 L364.6 108.42 L364.85 108.43 L365.1 108.44 L365.35 108.44 L365.6 108.45 L365.85 108.45 L366.1 108.45 L366.35 108.46 L366.6 108.46 L366.85 108.46 L367.1 108.46 L367.35 108.47 L367.6 108.47 L367.85 108.47 L368.1 108.47 L368.35 108.47 L368.6 108.47 L368.85 108.48 L369.1 108.48 L369.35 108.48 L369.6 108.48 L369.85 108.48 L370.1 108.48 L370.35 108.48 L370.6 108.48 L370.85 108.48 L371.1 108.48 L371.35 108.48 L371.6 108.48 L371.85 108.48 L372.1 108.49 L372.35 108.49 L372.6 108.49 L372.85 108.49 L373.1 108.49 L373.35 108.49 L373.6 108.49 L373.85 108.49 L374.1 108.49 L374.35 108.49 L374.6 108.49 L374.85 108.49 L375.1 108.49 L375.35 108.49 L375.6 108.49 L375.85 108.49 L376.1 108.49 L376.35 108.49 L376.6 108.49 L376.85 108.49 L377.1 108.49 L377.35 108.49 L377.6 108.49 L377.85 108.49 L378.1 108.49 L378.35 108.49 L378.6 108.49 L378.85 108.49 L379.1 108.49 L379.35 108.49 L379.6 108.49 L379.85 108.49 L380.1 108.49 L380.35 108.49 L380.6 108.49 L380.85 108.49 L381.1 108.49 L381.35 108.49 L381.6 108.49 L381.85 108.49 L382.1 108.49 L382.35 108.49 L382.6 108.49 L382.85 108.49 L383.1 108.49 L383.35 108.49 L383.6 108.49 L383.85 108.49 L384.1 108.49 L384.35 108.49 L384.6 108.49 L384.85 108.49 L385.1 108.49 L385.35 108.49 L385.6 108.49 L385.85 108.49 L386.1 108.49 L386.35 108.49 L386.6 108.49 L386.85 108.49 L387.1 108.49 L387.35 108.49 L387.6 108.49 L387.85 108.49 L388.1 108.49 L388.35 108.49 L388.6 108.49 L388.85 108.49 L389.1 108.49 L389.35 108.49 L389.6 108.49 L389.85 108.49 L390.1 108.49 L390.35 108.49 L390.6 108.49 L390.85 108.49 L391.1 108.49 L391.35 108.49 L391.6 108.49 L391.85 108.49 L392.1 108.49 L392.35 108.49 L392.6 108.49 L392.85 108.49 L393.1 108.49 L393.35 108.49 L393.6 108.49 L393.85 108.49 L394.1 108.49 L394.35 108.49 L394.6 108.49 L394.85 108.49 L395.1 108.49 L395.35 108.49 L395.6 108.49 L395.85 108.49 L396.1 108.49 L396.35 108.49 L396.6 108.49 L396.85 108.49 L397.1 108.49 L397.35 108.49 L397.6 108.49 L397.85 108.49 L398.1 108.49 L398.35 108.49 L398.6 108.49 L398.85 108.49 L399.1 108.49 L399.35 108.48 L399.6 108.48 L399.85 108.48 L400.1 108.48 L400.35 108.48 L400.6 108.48 L400.85 108.48 L401.1 108.48 L401.35 108.47 L401.6 108.47 L401.85 108.47 L402.1 108.47 L402.35 108.46 L402.6 108.46 L402.85 108.46 L403.1 108.45 L403.35 108.44 L403.6 108.44 L403.85 108.43 L404.1 108.42 L404.35 108.4 L404.6 108.39 L404.85 108.36 L405.1 108.33 L405.35 108.29 L405.6 108.23 L405.85 108.15 L406.1 108.02 L406.35 107.81 L406.6 107.48 L406.85 106.96 L406.93 106.75 L407.02 106.54 L407.1 106.34 L407.35 106.12 L407.6 106.58 L407.68 106.79 L407.77 107 L407.85 107.19 L408.1 107.63 L408.35 107.91 L408.6 108.08 L408.85 108.19 L409.1 108.26 L409.35 108.31 L409.6 108.35 L409.85 108.37 L410.1 108.39 L410.35 108.41 L410.6 108.42 L410.85 108.43 L411.1 108.44 L411.35 108.45 L411.6 108.45 L411.85 108.46 L412.1 108.46 L412.35 108.47 L412.6 108.47 L412.85 108.47 L413.1 108.47 L413.35 108.48 L413.6 108.48 L413.85 108.48 L414.1 108.48 L414.35 108.48 L414.6 108.48 L414.85 108.48 L415.1 108.48 L415.35 108.49 L415.6 108.49 L415.85 108.49 L416.1 108.49" fill="none" stroke="#ff0000" stroke-width="1.6" stroke-linejoin="round"/>
</g>
<g font-size="13" text-anchor="middle">
<text x="167" y="231.3">5</text>
<text x="212.7" y="231.3">10</text>
<text x="254.5" y="231.3">15</text>
<text x="296.6" y="231.3">20</text>
<text x="338.5" y="231.3">25</text>
<text x="380.8" y="231.3">30</text>
</g>
<text x="241.7" y="248.8" font-size="13.2">2 Theta (deg)</text>
<text transform="translate(142.6 182) rotate(-90)" font-size="13.3">XRD intensity (arb. units)</text>

<!-- panel c -->
<text x="424.1" y="23.8" font-size="15.5">c</text>
<g stroke="#1a1a1a" stroke-width="1.3">
<line x1="447.8" y1="213.6" x2="447.8" y2="208.8"/>
<line x1="479.1" y1="213.6" x2="479.1" y2="210.9"/>
<line x1="510.4" y1="213.6" x2="510.4" y2="208.8"/>
<line x1="541.7" y1="213.6" x2="541.7" y2="210.9"/>
<line x1="573" y1="213.6" x2="573" y2="208.8"/>
<line x1="604.3" y1="213.6" x2="604.3" y2="210.9"/>
<line x1="635.6" y1="213.6" x2="635.6" y2="208.8"/>
<line x1="666.9" y1="213.6" x2="666.9" y2="210.9"/>
</g>
<g clip-path="url(#cc)">
<path d="M429 211.9C430.83 211.9 436.5 211.92 440 211.9C443.5 211.88 447.03 211.85 450 211.8C452.97 211.75 455.8 211.72 457.8 211.6C459.8 211.48 460.78 211.23 462 211.1C463.22 210.97 463.72 211 465.1 210.8C466.48 210.6 468.63 210.3 470.3 209.9C471.97 209.5 473.45 209.08 475.1 208.4C476.75 207.72 478.83 206.82 480.2 205.8C481.57 204.78 482.28 203.88 483.3 202.3C484.32 200.72 485.45 198.35 486.3 196.3C487.15 194.25 487.65 192.72 488.4 190C489.15 187.28 490.08 183.33 490.8 180C491.52 176.67 492.12 173.33 492.7 170C493.28 166.67 493.82 163.33 494.3 160C494.78 156.67 495.2 153.33 495.6 150C496 146.67 496.37 143.33 496.7 140C497.03 136.67 497.33 133.33 497.6 130C497.87 126.67 498.03 122.83 498.3 120C498.57 117.17 498.93 115.17 499.2 113C499.47 110.83 499.7 108.83 499.9 107C500.1 105.17 500.22 103.3 500.4 102C500.58 100.7 500.78 99.8 501 99.2C501.22 98.6 501.43 98.42 501.7 98.4C501.97 98.38 502.28 98.58 502.6 99.1C502.92 99.62 503.32 100.52 503.6 101.5C503.88 102.48 504.12 103.58 504.3 105C504.48 106.42 504.52 107.5 504.7 110C504.88 112.5 505.12 116.67 505.4 120C505.68 123.33 506.08 126.67 506.4 130C506.72 133.33 507.03 136.67 507.3 140C507.57 143.33 507.75 146.67 508 150C508.25 153.33 508.5 156.67 508.8 160C509.1 163.33 509.45 166.67 509.8 170C510.15 173.33 510.45 176.83 510.9 180C511.35 183.17 511.95 186.33 512.5 189C513.05 191.67 513.45 193.82 514.2 196C514.95 198.18 515.85 200.32 517 202.1C518.15 203.88 519.57 205.42 521.1 206.7C522.63 207.98 524.5 209.08 526.2 209.8C527.9 210.52 529.08 210.68 531.3 211C533.52 211.32 534.72 211.55 539.5 211.7C544.28 211.85 541.28 211.87 560 211.9C578.72 211.93 636.5 211.9 651.8 211.9" fill="none" stroke="#ff0000" stroke-width="1.85" stroke-linejoin="round"/>
<path d="M417.2 212.8C422.67 212.8 439.53 212.82 450 212.8C460.47 212.78 473.67 212.75 480 212.7C486.33 212.65 485.92 212.58 488 212.5C490.08 212.42 491.15 212.38 492.5 212.2C493.85 212.02 495.08 212.05 496.1 211.4C497.12 210.75 497.93 209.85 498.6 208.3C499.27 206.75 499.67 204.15 500.1 202.1C500.53 200.05 500.88 198.02 501.2 196C501.52 193.98 501.73 192.67 502 190C502.27 187.33 502.55 183.33 502.8 180C503.05 176.67 503.32 173.33 503.5 170C503.68 166.67 503.78 163.33 503.9 160C504.02 156.67 504.08 153.33 504.2 150C504.32 146.67 504.45 143.33 504.6 140C504.75 136.67 504.9 133.33 505.1 130C505.3 126.67 505.6 122.5 505.8 120C506 117.5 506.12 116.5 506.3 115C506.48 113.5 506.68 112.5 506.9 111C507.12 109.5 507.33 107.47 507.6 106C507.87 104.53 508.13 103.28 508.5 102.2C508.87 101.12 509.35 100.12 509.8 99.5C510.25 98.88 510.72 98.6 511.2 98.5C511.68 98.4 512.2 98.57 512.7 98.9C513.2 99.23 513.7 99.72 514.2 100.5C514.7 101.28 515.23 102.35 515.7 103.6C516.17 104.85 516.57 106.27 517 108C517.43 109.73 517.92 112 518.3 114C518.68 116 518.95 118 519.3 120C519.65 122 520.03 124.25 520.4 126C520.77 127.75 521.15 128.92 521.5 130.5C521.85 132.08 522.2 133.92 522.5 135.5C522.8 137.08 523.02 138.42 523.3 140C523.58 141.58 523.9 143.33 524.2 145C524.5 146.67 524.72 148.25 525.1 150C525.48 151.75 526.02 153.75 526.5 155.5C526.98 157.25 527.52 158.93 528 160.5C528.48 162.07 528.82 163.43 529.4 164.9C529.98 166.37 530.82 168.12 531.5 169.3C532.18 170.48 532.75 171.3 533.5 172C534.25 172.7 535.08 173.13 536 173.5C536.92 173.87 538 174.15 539 174.2C540 174.25 540.33 174.4 542 173.8C543.67 173.2 546.83 171.78 549 170.6C551.17 169.42 553 167.82 555 166.7C557 165.58 559.02 164.83 561 163.9C562.98 162.97 564.93 162.05 566.9 161.1C568.87 160.15 570.83 159.18 572.8 158.2C574.77 157.22 577.17 156.05 578.7 155.2C580.23 154.35 581 153.75 582 153.1C583 152.45 583.75 152.08 584.7 151.3C585.65 150.52 586.72 149.4 587.7 148.4C588.68 147.4 589.38 146.62 590.6 145.3C591.82 143.98 593.52 142.35 595 140.5C596.48 138.65 598.02 136.3 599.5 134.2C600.98 132.1 602.42 129.98 603.9 127.9C605.38 125.82 606.92 123.77 608.4 121.7C609.88 119.63 611.18 117.73 612.8 115.5C614.42 113.27 616.73 110.08 618.1 108.3C619.47 106.52 620.1 105.83 621 104.8C621.9 103.77 622.63 102.97 623.5 102.1C624.37 101.23 625.32 100.38 626.2 99.6C627.08 98.82 627.92 98.07 628.8 97.4C629.68 96.73 630.55 96.2 631.5 95.6C632.45 95 633.22 94.47 634.5 93.8C635.78 93.13 637.62 92.18 639.2 91.6C640.78 91.02 642.42 90.67 644 90.3C645.58 89.93 647.12 89.72 648.7 89.4C650.28 89.08 651.92 88.72 653.5 88.4C655.08 88.08 656.62 87.78 658.2 87.5C659.78 87.22 661.42 87.02 663 86.7C664.58 86.38 666.12 85.9 667.7 85.6C669.28 85.3 671.23 85.07 672.5 84.9C673.77 84.73 674.43 84.58 675.3 84.6C676.17 84.62 677 84.95 677.7 85C678.4 85.05 678.82 84.93 679.5 84.9C680.18 84.87 681.42 84.82 681.8 84.8" fill="none" stroke="#000" stroke-width="1.75" stroke-linejoin="round"/>
</g>

<g font-size="13" text-anchor="middle">
<text x="448.5" y="230.9">2.0</text>
<text x="511.9" y="230.9">2.4</text>
<text x="570.3" y="230.9">2.8</text>
<text x="634.6" y="230.9">3.2</text>
</g>
<text x="509.9" y="248.6" font-size="13.3">Energy (eV)</text>
<text x="458.2" y="110.8" font-size="15">Abs</text>
<text x="466.8" y="133.1" font-size="15" fill="#ff0000">PL</text>

<!-- arrows -->
<g stroke-width="2">
<line x1="509.6" y1="11.5" x2="509.6" y2="48" stroke="#ff0000"/>
<line x1="509.6" y1="54" x2="509.6" y2="90.5" stroke="#ff0000"/>
<line x1="584.4" y1="8.7" x2="584.4" y2="88" stroke="#1010ff"/>
<line x1="588.3" y1="9.1" x2="588.3" y2="45.5" stroke="#ff0000"/>
<line x1="588.3" y1="52" x2="588.3" y2="88" stroke="#ff0000"/>
</g>
<polygon points="506.4,47.4 512.7,47.4 509.6,53.2" fill="#ff0000"/>
<polygon points="506.2,90.1 513,90.1 509.6,96.2" fill="#ff0000"/>
<polygon points="581,87 586.8,87 583.9,93" fill="#1010ff"/>
<polygon points="585.2,45 591.4,45 588.3,50.8" fill="#ff0000"/>
<polygon points="585.2,87.1 591.3,87.1 588.3,93.4" fill="#ff0000"/>
<text transform="translate(526.8 87.3) rotate(-90)" font-size="14.7" fill="#ff0000">λ=1030nm</text>
<text transform="translate(577 77.2) rotate(-90)" font-size="14.7" fill="#1010ff">λ=430nm</text>
<text transform="translate(604.4 77.2) rotate(-90)" font-size="14.7" fill="#ff0000">λ=860nm</text>
</svg>
</body></html>
